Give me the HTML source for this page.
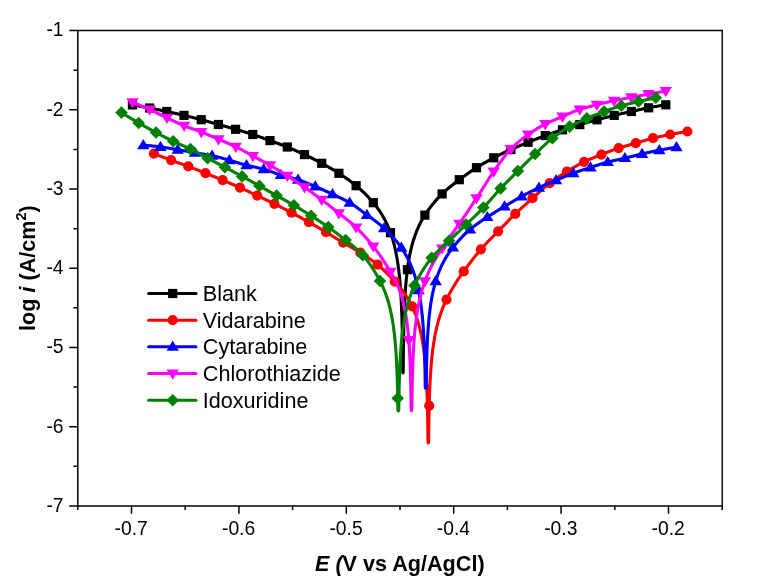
<!DOCTYPE html>
<html lang="en">
<head>
<meta charset="utf-8">
<title>Tafel polarization curves</title>
<style>
html,body{margin:0;padding:0;background:#fff;}
body{width:762px;height:582px;overflow:hidden;}
svg{display:block;}
</style>
</head>
<body>
<svg width="762" height="582" viewBox="0 0 762 582">
<rect width="762" height="582" fill="#fff"/>
<g id="s-black">
<path d="M132.40 104.9L132.90 105.0L133.40 105.1L133.90 105.2L134.40 105.2L134.90 105.3L135.40 105.4L135.90 105.5L136.40 105.6L136.90 105.7L137.40 105.8L137.90 105.8L138.40 105.9L138.90 106.0L139.40 106.1L139.90 106.2L140.40 106.3L140.90 106.4L141.40 106.5L141.90 106.6L142.40 106.7L142.90 106.7L143.40 106.8L143.90 106.9L144.40 107.0L144.90 107.1L145.40 107.2L145.90 107.3L146.40 107.4L146.90 107.5L147.40 107.6L147.90 107.7L148.40 107.8L148.90 107.9L149.40 108.0L149.61 108.0L149.90 108.1L150.40 108.2L150.90 108.2L151.40 108.3L151.90 108.4L152.40 108.5L152.90 108.6L153.40 108.7L153.90 108.8L154.40 108.9L154.90 109.0L155.40 109.1L155.90 109.2L156.40 109.3L156.90 109.4L157.40 109.5L157.90 109.6L158.40 109.7L158.90 109.8L159.40 109.9L159.90 110.0L160.40 110.1L160.90 110.3L161.40 110.4L161.90 110.5L162.40 110.6L162.90 110.7L163.40 110.8L163.90 110.9L164.40 111.0L164.90 111.1L165.40 111.2L165.90 111.3L166.40 111.4L166.81 111.5L166.90 111.5L167.40 111.6L167.90 111.7L168.40 111.8L168.90 112.0L169.40 112.1L169.90 112.2L170.40 112.3L170.90 112.4L171.40 112.5L171.90 112.6L172.40 112.7L172.90 112.8L173.40 112.9L173.90 113.1L174.40 113.2L174.90 113.3L175.40 113.4L175.90 113.5L176.40 113.6L176.90 113.7L177.40 113.9L177.90 114.0L178.40 114.1L178.90 114.2L179.40 114.3L179.90 114.4L180.40 114.5L180.90 114.7L181.40 114.8L181.90 114.9L182.40 115.0L182.90 115.1L183.40 115.3L183.90 115.4L184.02 115.4L184.40 115.5L184.90 115.6L185.40 115.7L185.90 115.8L186.40 116.0L186.90 116.1L187.40 116.2L187.90 116.3L188.40 116.5L188.90 116.6L189.40 116.7L189.90 116.8L190.40 116.9L190.90 117.1L191.40 117.2L191.90 117.3L192.40 117.4L192.90 117.6L193.40 117.7L193.90 117.8L194.40 117.9L194.90 118.1L195.40 118.2L195.90 118.3L196.40 118.4L196.90 118.6L197.40 118.7L197.90 118.8L198.40 119.0L198.90 119.1L199.40 119.2L199.90 119.4L200.40 119.5L200.90 119.6L201.22 119.7L201.40 119.7L201.90 119.9L202.40 120.0L202.90 120.1L203.40 120.3L203.90 120.4L204.40 120.6L204.90 120.7L205.40 120.8L205.90 121.0L206.40 121.1L206.90 121.2L207.40 121.4L207.90 121.5L208.40 121.7L208.90 121.8L209.40 121.9L209.90 122.1L210.40 122.2L210.90 122.4L211.40 122.5L211.90 122.7L212.40 122.8L212.90 122.9L213.40 123.1L213.90 123.2L214.40 123.4L214.90 123.5L215.40 123.7L215.90 123.8L216.40 123.9L216.90 124.1L217.40 124.2L217.90 124.4L218.40 124.5L218.43 124.5L218.90 124.6L219.40 124.8L219.90 124.9L220.40 125.0L220.90 125.2L221.40 125.3L221.90 125.5L222.40 125.6L222.90 125.7L223.40 125.9L223.90 126.0L224.40 126.1L224.90 126.3L225.40 126.4L225.90 126.6L226.40 126.7L226.90 126.8L227.40 127.0L227.90 127.1L228.40 127.3L228.90 127.4L229.40 127.5L229.90 127.7L230.40 127.8L230.90 128.0L231.40 128.1L231.90 128.2L232.40 128.4L232.90 128.5L233.40 128.7L233.90 128.8L234.40 128.9L234.90 129.1L235.40 129.2L235.64 129.3L235.90 129.4L236.40 129.5L236.90 129.7L237.40 129.8L237.90 130.0L238.40 130.1L238.90 130.2L239.40 130.4L239.90 130.5L240.40 130.7L240.90 130.8L241.40 131.0L241.90 131.1L242.40 131.3L242.90 131.4L243.40 131.6L243.90 131.7L244.40 131.9L244.90 132.0L245.40 132.2L245.90 132.3L246.40 132.5L246.90 132.6L247.40 132.8L247.90 132.9L248.40 133.1L248.90 133.2L249.40 133.4L249.90 133.6L250.40 133.7L250.90 133.9L251.40 134.0L251.90 134.2L252.40 134.4L252.84 134.5L252.90 134.5L253.40 134.7L253.90 134.8L254.40 135.0L254.90 135.2L255.40 135.4L255.90 135.5L256.40 135.7L256.90 135.9L257.40 136.0L257.90 136.2L258.40 136.4L258.90 136.6L259.40 136.7L259.90 136.9L260.40 137.1L260.90 137.3L261.40 137.5L261.90 137.6L262.40 137.8L262.90 138.0L263.40 138.2L263.90 138.4L264.40 138.5L264.90 138.7L265.40 138.9L265.90 139.1L266.40 139.3L266.90 139.5L267.40 139.6L267.90 139.8L268.40 140.0L268.90 140.2L269.40 140.4L269.90 140.5L270.05 140.6L270.40 140.7L270.90 140.9L271.40 141.1L271.90 141.3L272.40 141.4L272.90 141.6L273.40 141.8L273.90 142.0L274.40 142.2L274.90 142.3L275.40 142.5L275.90 142.7L276.40 142.9L276.90 143.1L277.40 143.3L277.90 143.4L278.40 143.6L278.90 143.8L279.40 144.0L279.90 144.2L280.40 144.4L280.90 144.5L281.40 144.7L281.90 144.9L282.40 145.1L282.90 145.3L283.40 145.5L283.90 145.7L284.40 145.9L284.90 146.1L285.40 146.3L285.90 146.5L286.40 146.7L286.90 146.9L287.25 147.0L287.40 147.1L287.90 147.3L288.40 147.5L288.90 147.7L289.40 147.9L289.90 148.1L290.40 148.3L290.90 148.5L291.40 148.7L291.90 148.9L292.40 149.1L292.90 149.4L293.40 149.6L293.90 149.8L294.40 150.0L294.90 150.2L295.40 150.5L295.90 150.7L296.40 150.9L296.90 151.1L297.40 151.3L297.90 151.6L298.40 151.8L298.90 152.0L299.40 152.3L299.90 152.5L300.40 152.7L300.90 152.9L301.40 153.2L301.90 153.4L302.40 153.6L302.90 153.9L303.40 154.1L303.90 154.3L304.40 154.6L304.46 154.6L304.90 154.8L305.40 155.0L305.90 155.3L306.40 155.5L306.90 155.8L307.40 156.0L307.90 156.2L308.40 156.5L308.90 156.7L309.40 157.0L309.90 157.2L310.40 157.5L310.90 157.7L311.40 158.0L311.90 158.2L312.40 158.5L312.90 158.7L313.40 159.0L313.90 159.2L314.40 159.5L314.90 159.7L315.40 160.0L315.90 160.3L316.40 160.5L316.90 160.8L317.40 161.0L317.90 161.3L318.40 161.6L318.90 161.8L319.40 162.1L319.90 162.4L320.40 162.6L320.90 162.9L321.40 163.2L321.67 163.3L321.90 163.4L322.40 163.7L322.90 164.0L323.40 164.2L323.90 164.5L324.40 164.8L324.90 165.1L325.40 165.3L325.90 165.6L326.40 165.9L326.90 166.2L327.40 166.4L327.90 166.7L328.40 167.0L328.90 167.3L329.40 167.6L329.90 167.9L330.40 168.2L330.90 168.5L331.40 168.7L331.90 169.0L332.40 169.3L332.90 169.6L333.40 169.9L333.90 170.2L334.40 170.5L334.90 170.8L335.40 171.1L335.90 171.4L336.40 171.7L336.90 172.1L337.40 172.4L337.90 172.7L338.40 173.0L338.87 173.3L338.90 173.3L339.40 173.6L339.90 174.0L340.40 174.3L340.90 174.6L341.40 174.9L341.90 175.3L342.40 175.6L342.90 175.9L343.40 176.3L343.90 176.6L344.40 177.0L344.90 177.3L345.40 177.7L345.90 178.0L346.40 178.4L346.90 178.7L347.40 179.1L347.90 179.4L348.40 179.8L348.90 180.2L349.40 180.5L349.90 180.9L350.40 181.3L350.90 181.6L351.40 182.0L351.90 182.4L352.40 182.8L352.90 183.2L353.40 183.6L353.90 184.0L354.40 184.3L354.90 184.7L355.40 185.1L355.90 185.6L356.08 185.7L356.40 186.0L356.90 186.4L357.40 186.8L357.90 187.2L358.40 187.6L358.90 188.1L359.40 188.5L359.90 189.0L360.40 189.4L360.90 189.9L361.40 190.3L361.90 190.8L362.40 191.3L362.90 191.7L363.40 192.2L363.90 192.7L364.40 193.2L364.90 193.7L365.40 194.2L365.90 194.7L366.40 195.2L366.90 195.7L367.40 196.2L367.90 196.7L368.40 197.2L368.90 197.8L369.40 198.3L369.90 198.9L370.40 199.4L370.90 200.0L371.40 200.5L371.90 201.1L372.40 201.7L372.90 202.2L373.28 202.7L373.40 202.8L373.90 203.4L374.40 204.0L374.90 204.7L375.40 205.3L375.90 205.9L376.40 206.6L376.90 207.2L377.40 207.9L377.90 208.6L378.40 209.3L378.90 210.0L379.40 210.7L379.90 211.5L380.40 212.2L380.90 213.0L381.40 213.8L381.90 214.6L382.40 215.4L382.90 216.3L383.40 217.2L383.90 218.1L384.40 219.0L384.90 219.9L385.40 220.9L385.90 221.9L386.40 222.9L386.90 224.0L387.40 225.1L387.90 226.2L388.00 226.4L388.40 227.3L388.90 228.6L389.16 229.2L389.40 229.8L389.90 231.1L390.24 232.0L390.40 232.5L390.49 232.7L390.90 233.9L391.23 234.8L391.40 235.3L391.90 236.8L392.14 237.6L392.40 238.4L392.90 240.1L392.99 240.4L393.40 241.9L393.76 243.2L393.90 243.8L394.40 245.7L394.48 246.0L394.90 247.8L395.14 248.8L395.40 250.0L395.75 251.7L395.90 252.4L396.31 254.5L396.40 254.9L396.83 257.3L396.90 257.6L397.31 260.1L397.40 260.6L397.75 262.9L397.90 263.9L398.16 265.7L398.40 267.4L398.54 268.5L398.88 271.3L398.90 271.4L399.20 274.1L399.40 275.9L399.50 276.9L399.77 279.7L399.90 281.1L400.02 282.5L400.25 285.3L400.40 287.2L400.46 288.1L400.66 290.8L400.84 293.6L400.90 294.6L401.01 296.4L401.16 299.2L401.31 302.0L401.40 304.0L401.44 304.8L401.56 307.6L401.67 310.4L401.77 313.2L401.87 315.9L401.90 316.9L401.96 318.7L402.04 321.5L402.11 324.3L402.18 327.1L402.25 329.9L402.30 332.7L402.36 335.4L402.40 337.8L402.41 338.2L402.45 341.0L402.50 343.8L402.54 346.6L402.57 349.3L402.60 352.1L402.64 354.9L402.66 357.7L402.69 360.5L402.71 363.3L402.74 366.0L402.76 368.8L402.78 371.6L403.00 372.9L403.22 371.6L403.24 368.9L403.26 366.1L403.29 363.3L403.31 360.5L403.34 357.7L403.36 355.0L403.40 352.2L403.40 351.8L403.43 349.4L403.46 346.6L403.50 343.8L403.55 341.1L403.59 338.3L403.64 335.5L403.70 332.7L403.75 330.0L403.82 327.2L403.89 324.4L403.90 323.9L403.96 321.6L404.04 318.9L404.13 316.1L404.23 313.3L404.33 310.5L404.40 308.7L404.44 307.8L404.56 305.0L404.69 302.2L404.84 299.5L404.90 298.3L404.99 296.7L405.16 293.9L405.34 291.2L405.40 290.3L405.54 288.4L405.75 285.6L405.90 283.8L405.98 282.9L406.23 280.1L406.40 278.4L406.50 277.3L406.80 274.6L406.90 273.7L407.12 271.8L407.38 269.7L407.40 269.5L407.46 269.1L407.84 266.3L407.90 265.9L408.25 263.6L408.40 262.6L408.69 260.8L408.90 259.6L409.17 258.1L409.40 256.8L409.69 255.3L409.90 254.2L410.25 252.6L410.40 251.9L410.86 249.8L410.90 249.6L411.40 247.6L411.52 247.1L411.90 245.6L412.24 244.4L412.40 243.8L412.90 242.0L413.01 241.6L413.40 240.3L413.86 238.9L413.90 238.8L414.40 237.2L414.77 236.2L414.90 235.8L415.40 234.4L415.76 233.4L415.90 233.1L416.40 231.8L416.84 230.7L416.90 230.5L417.40 229.3L417.90 228.2L418.00 228.0L418.40 227.1L418.90 226.0L419.40 225.0L419.90 223.9L420.40 222.9L420.90 222.0L421.40 221.1L421.90 220.1L422.40 219.3L422.90 218.4L423.40 217.5L423.90 216.7L424.40 215.9L424.90 215.1L424.90 215.1L425.40 214.3L425.90 213.6L426.40 212.8L426.90 212.1L427.40 211.3L427.90 210.6L428.40 209.9L428.90 209.2L429.40 208.5L429.90 207.9L430.40 207.2L430.90 206.5L431.40 205.9L431.90 205.2L432.40 204.6L432.90 204.0L433.40 203.4L433.90 202.8L434.40 202.2L434.90 201.6L435.40 201.0L435.90 200.4L436.40 199.9L436.90 199.3L437.40 198.7L437.90 198.2L438.40 197.7L438.90 197.1L439.40 196.6L439.90 196.1L440.40 195.6L440.90 195.1L441.40 194.6L441.90 194.1L442.11 193.9L442.40 193.6L442.90 193.1L443.40 192.7L443.90 192.2L444.40 191.7L444.90 191.3L445.40 190.8L445.90 190.4L446.40 190.0L446.90 189.5L447.40 189.1L447.90 188.7L448.40 188.2L448.90 187.8L449.40 187.4L449.90 187.0L450.40 186.6L450.90 186.2L451.40 185.8L451.90 185.4L452.40 185.0L452.90 184.6L453.40 184.2L453.90 183.8L454.40 183.4L454.90 183.0L455.40 182.6L455.90 182.2L456.40 181.9L456.90 181.5L457.40 181.1L457.90 180.7L458.40 180.4L458.90 180.0L459.31 179.7L459.40 179.6L459.90 179.3L460.40 178.9L460.90 178.5L461.40 178.2L461.90 177.8L462.40 177.4L462.90 177.1L463.40 176.7L463.90 176.4L464.40 176.0L464.90 175.6L465.40 175.3L465.90 174.9L466.40 174.6L466.90 174.2L467.40 173.8L467.90 173.5L468.40 173.1L468.90 172.8L469.40 172.4L469.90 172.1L470.40 171.7L470.90 171.4L471.40 171.1L471.90 170.7L472.40 170.4L472.90 170.0L473.40 169.7L473.90 169.4L474.40 169.1L474.90 168.7L475.40 168.4L475.90 168.1L476.40 167.8L476.52 167.7L476.90 167.5L477.40 167.2L477.90 166.8L478.40 166.5L478.90 166.2L479.40 165.9L479.90 165.6L480.40 165.3L480.90 165.0L481.40 164.7L481.90 164.4L482.40 164.1L482.90 163.8L483.40 163.5L483.90 163.2L484.40 162.9L484.90 162.7L485.40 162.4L485.90 162.1L486.40 161.8L486.90 161.5L487.40 161.2L487.90 161.0L488.40 160.7L488.90 160.4L489.40 160.1L489.90 159.8L490.40 159.6L490.90 159.3L491.40 159.0L491.90 158.8L492.40 158.5L492.90 158.2L493.40 158.0L493.73 157.8L493.90 157.7L494.40 157.4L494.90 157.2L495.40 156.9L495.90 156.7L496.40 156.4L496.90 156.2L497.40 155.9L497.90 155.7L498.40 155.4L498.90 155.2L499.40 154.9L499.90 154.7L500.40 154.4L500.90 154.2L501.40 153.9L501.90 153.7L502.40 153.5L502.90 153.2L503.40 153.0L503.90 152.7L504.40 152.5L504.90 152.3L505.40 152.0L505.90 151.8L506.40 151.6L506.90 151.3L507.40 151.1L507.90 150.9L508.40 150.6L508.90 150.4L509.40 150.2L509.90 150.0L510.40 149.7L510.90 149.5L510.93 149.5L511.40 149.3L511.90 149.1L512.40 148.8L512.90 148.6L513.40 148.4L513.90 148.2L514.40 148.0L514.90 147.8L515.40 147.5L515.90 147.3L516.40 147.1L516.90 146.9L517.40 146.7L517.90 146.5L518.40 146.3L518.90 146.1L519.40 145.9L519.90 145.7L520.40 145.4L520.90 145.2L521.40 145.0L521.90 144.8L522.40 144.6L522.90 144.4L523.40 144.2L523.90 144.0L524.40 143.8L524.90 143.6L525.40 143.4L525.90 143.2L526.40 143.0L526.90 142.8L527.40 142.6L527.90 142.4L528.14 142.3L528.40 142.2L528.90 142.0L529.40 141.8L529.90 141.6L530.40 141.4L530.90 141.2L531.40 141.0L531.90 140.8L532.40 140.6L532.90 140.4L533.40 140.2L533.90 140.0L534.40 139.8L534.90 139.6L535.40 139.4L535.90 139.2L536.40 139.0L536.90 138.8L537.40 138.6L537.90 138.4L538.40 138.2L538.90 138.0L539.40 137.8L539.90 137.6L540.40 137.4L540.90 137.3L541.40 137.1L541.90 136.9L542.40 136.7L542.90 136.5L543.40 136.3L543.90 136.1L544.40 135.9L544.90 135.8L545.34 135.6L545.40 135.6L545.90 135.4L546.40 135.2L546.90 135.0L547.40 134.9L547.90 134.7L548.40 134.5L548.90 134.3L549.40 134.2L549.90 134.0L550.40 133.8L550.90 133.6L551.40 133.5L551.90 133.3L552.40 133.1L552.90 133.0L553.40 132.8L553.90 132.6L554.40 132.5L554.90 132.3L555.40 132.1L555.90 132.0L556.40 131.8L556.90 131.6L557.40 131.5L557.90 131.3L558.40 131.1L558.90 131.0L559.40 130.8L559.90 130.6L560.40 130.5L560.90 130.3L561.40 130.2L561.90 130.0L562.40 129.8L562.55 129.8L562.90 129.7L563.40 129.5L563.90 129.4L564.40 129.2L564.90 129.1L565.40 128.9L565.90 128.7L566.40 128.6L566.90 128.4L567.40 128.3L567.90 128.1L568.40 128.0L568.90 127.8L569.40 127.7L569.90 127.5L570.40 127.4L570.90 127.2L571.40 127.1L571.90 126.9L572.40 126.8L572.90 126.6L573.40 126.5L573.90 126.3L574.40 126.2L574.90 126.0L575.40 125.9L575.90 125.7L576.40 125.6L576.90 125.4L577.40 125.3L577.90 125.1L578.40 125.0L578.90 124.8L579.40 124.7L579.76 124.6L579.90 124.6L580.40 124.4L580.90 124.3L581.40 124.1L581.90 124.0L582.40 123.8L582.90 123.7L583.40 123.6L583.90 123.4L584.40 123.3L584.90 123.1L585.40 123.0L585.90 122.8L586.40 122.7L586.90 122.6L587.40 122.4L587.90 122.3L588.40 122.1L588.90 122.0L589.40 121.9L589.90 121.7L590.40 121.6L590.90 121.4L591.40 121.3L591.90 121.2L592.40 121.0L592.90 120.9L593.40 120.8L593.90 120.6L594.40 120.5L594.90 120.4L595.40 120.2L595.90 120.1L596.40 120.0L596.90 119.8L596.96 119.8L597.40 119.7L597.90 119.6L598.40 119.4L598.90 119.3L599.40 119.2L599.90 119.0L600.40 118.9L600.90 118.8L601.40 118.6L601.90 118.5L602.40 118.4L602.90 118.2L603.40 118.1L603.90 118.0L604.40 117.8L604.90 117.7L605.40 117.6L605.90 117.5L606.40 117.3L606.90 117.2L607.40 117.1L607.90 116.9L608.40 116.8L608.90 116.7L609.40 116.6L609.90 116.4L610.40 116.3L610.90 116.2L611.40 116.1L611.90 116.0L612.40 115.8L612.90 115.7L613.40 115.6L613.90 115.5L614.17 115.4L614.40 115.3L614.90 115.2L615.40 115.1L615.90 115.0L616.40 114.9L616.90 114.8L617.40 114.6L617.90 114.5L618.40 114.4L618.90 114.3L619.40 114.2L619.90 114.1L620.40 113.9L620.90 113.8L621.40 113.7L621.90 113.6L622.40 113.5L622.90 113.4L623.40 113.3L623.90 113.2L624.40 113.0L624.90 112.9L625.40 112.8L625.90 112.7L626.40 112.6L626.90 112.5L627.40 112.4L627.90 112.3L628.40 112.2L628.90 112.0L629.40 111.9L629.90 111.8L630.40 111.7L630.90 111.6L631.37 111.5L631.40 111.5L631.90 111.4L632.40 111.3L632.90 111.2L633.40 111.1L633.90 110.9L634.40 110.8L634.90 110.7L635.40 110.6L635.90 110.5L636.40 110.4L636.90 110.3L637.40 110.2L637.90 110.0L638.40 109.9L638.90 109.8L639.40 109.7L639.90 109.6L640.40 109.5L640.90 109.4L641.40 109.3L641.90 109.2L642.40 109.1L642.90 109.0L643.40 108.8L643.90 108.7L644.40 108.6L644.90 108.5L645.40 108.4L645.90 108.3L646.40 108.2L646.90 108.1L647.40 108.0L647.90 107.9L648.40 107.8L648.58 107.8L648.90 107.7L649.40 107.6L649.90 107.6L650.40 107.5L650.90 107.4L651.40 107.3L651.90 107.2L652.40 107.1L652.90 107.0L653.40 106.9L653.90 106.8L654.40 106.7L654.90 106.6L655.40 106.5L655.90 106.5L656.40 106.4L656.90 106.3L657.40 106.2L657.90 106.1L658.40 106.0L658.90 105.9L659.40 105.8L659.90 105.8L660.40 105.7L660.90 105.6L661.40 105.5L661.90 105.4L662.40 105.3L662.90 105.3L663.40 105.2L663.90 105.1L664.40 105.0L664.90 104.9L665.40 104.9L665.79 104.8" fill="none" stroke="#000000" stroke-width="3.1" stroke-linejoin="round" stroke-linecap="round"/>
<rect x="127.8" y="100.3" width="9.2" height="9.2" fill="#000000"/>
<rect x="145.0" y="103.4" width="9.2" height="9.2" fill="#000000"/>
<rect x="162.2" y="106.9" width="9.2" height="9.2" fill="#000000"/>
<rect x="179.4" y="110.8" width="9.2" height="9.2" fill="#000000"/>
<rect x="196.6" y="115.1" width="9.2" height="9.2" fill="#000000"/>
<rect x="213.8" y="119.9" width="9.2" height="9.2" fill="#000000"/>
<rect x="231.0" y="124.7" width="9.2" height="9.2" fill="#000000"/>
<rect x="248.2" y="129.9" width="9.2" height="9.2" fill="#000000"/>
<rect x="265.4" y="136.0" width="9.2" height="9.2" fill="#000000"/>
<rect x="282.7" y="142.4" width="9.2" height="9.2" fill="#000000"/>
<rect x="299.9" y="150.0" width="9.2" height="9.2" fill="#000000"/>
<rect x="317.1" y="158.7" width="9.2" height="9.2" fill="#000000"/>
<rect x="334.3" y="168.7" width="9.2" height="9.2" fill="#000000"/>
<rect x="351.5" y="181.1" width="9.2" height="9.2" fill="#000000"/>
<rect x="368.7" y="198.1" width="9.2" height="9.2" fill="#000000"/>
<rect x="385.9" y="228.1" width="9.2" height="9.2" fill="#000000"/>
<rect x="402.8" y="265.1" width="9.2" height="9.2" fill="#000000"/>
<rect x="420.3" y="210.5" width="9.2" height="9.2" fill="#000000"/>
<rect x="437.5" y="189.3" width="9.2" height="9.2" fill="#000000"/>
<rect x="454.7" y="175.1" width="9.2" height="9.2" fill="#000000"/>
<rect x="471.9" y="163.1" width="9.2" height="9.2" fill="#000000"/>
<rect x="489.1" y="153.2" width="9.2" height="9.2" fill="#000000"/>
<rect x="506.3" y="144.9" width="9.2" height="9.2" fill="#000000"/>
<rect x="523.5" y="137.7" width="9.2" height="9.2" fill="#000000"/>
<rect x="540.7" y="131.0" width="9.2" height="9.2" fill="#000000"/>
<rect x="557.9" y="125.2" width="9.2" height="9.2" fill="#000000"/>
<rect x="575.2" y="120.0" width="9.2" height="9.2" fill="#000000"/>
<rect x="592.4" y="115.2" width="9.2" height="9.2" fill="#000000"/>
<rect x="609.6" y="110.8" width="9.2" height="9.2" fill="#000000"/>
<rect x="626.8" y="106.9" width="9.2" height="9.2" fill="#000000"/>
<rect x="644.0" y="103.2" width="9.2" height="9.2" fill="#000000"/>
<rect x="661.2" y="100.2" width="9.2" height="9.2" fill="#000000"/>
</g>
<g id="s-red">
<path d="M153.90 153.6L154.40 153.8L154.90 154.0L155.40 154.2L155.90 154.4L156.40 154.6L156.90 154.8L157.40 155.0L157.90 155.2L158.40 155.4L158.90 155.6L159.40 155.8L159.90 155.9L160.40 156.1L160.90 156.3L161.40 156.5L161.90 156.7L162.40 156.9L162.90 157.1L163.40 157.3L163.90 157.5L164.40 157.7L164.90 157.9L165.40 158.1L165.90 158.2L166.40 158.4L166.90 158.6L167.40 158.8L167.90 159.0L168.40 159.2L168.90 159.4L169.40 159.6L169.90 159.8L170.40 159.9L170.90 160.1L171.11 160.2L171.40 160.3L171.90 160.5L172.40 160.7L172.90 160.9L173.40 161.0L173.90 161.2L174.40 161.4L174.90 161.6L175.40 161.8L175.90 161.9L176.40 162.1L176.90 162.3L177.40 162.5L177.90 162.6L178.40 162.8L178.90 163.0L179.40 163.2L179.90 163.4L180.40 163.5L180.90 163.7L181.40 163.9L181.90 164.1L182.40 164.2L182.90 164.4L183.40 164.6L183.90 164.8L184.40 165.0L184.90 165.1L185.40 165.3L185.90 165.5L186.40 165.7L186.90 165.9L187.40 166.1L187.90 166.2L188.32 166.4L188.40 166.4L188.90 166.6L189.40 166.8L189.90 167.0L190.40 167.2L190.90 167.4L191.40 167.6L191.90 167.8L192.40 168.0L192.90 168.2L193.40 168.4L193.90 168.6L194.40 168.7L194.90 168.9L195.40 169.1L195.90 169.3L196.40 169.5L196.90 169.7L197.40 169.9L197.90 170.1L198.40 170.3L198.90 170.5L199.40 170.7L199.90 170.9L200.40 171.1L200.90 171.3L201.40 171.5L201.90 171.7L202.40 171.9L202.90 172.1L203.40 172.3L203.90 172.5L204.40 172.7L204.90 172.9L205.40 173.1L205.53 173.2L205.90 173.3L206.40 173.5L206.90 173.7L207.40 173.9L207.90 174.2L208.40 174.4L208.90 174.6L209.40 174.8L209.90 175.0L210.40 175.2L210.90 175.4L211.40 175.6L211.90 175.8L212.40 176.0L212.90 176.2L213.40 176.4L213.90 176.6L214.40 176.8L214.90 177.0L215.40 177.2L215.90 177.4L216.40 177.6L216.90 177.8L217.40 178.0L217.90 178.2L218.40 178.4L218.90 178.6L219.40 178.8L219.90 179.0L220.40 179.2L220.90 179.4L221.40 179.6L221.90 179.8L222.40 180.1L222.74 180.2L222.90 180.3L223.40 180.5L223.90 180.7L224.40 180.9L224.90 181.1L225.40 181.3L225.90 181.5L226.40 181.7L226.90 181.9L227.40 182.2L227.90 182.4L228.40 182.6L228.90 182.8L229.40 183.0L229.90 183.2L230.40 183.4L230.90 183.6L231.40 183.9L231.90 184.1L232.40 184.3L232.90 184.5L233.40 184.7L233.90 184.9L234.40 185.2L234.90 185.4L235.40 185.6L235.90 185.8L236.40 186.0L236.90 186.2L237.40 186.5L237.90 186.7L238.40 186.9L238.90 187.1L239.40 187.4L239.90 187.6L239.95 187.6L240.40 187.8L240.90 188.0L241.40 188.3L241.90 188.5L242.40 188.7L242.90 188.9L243.40 189.2L243.90 189.4L244.40 189.6L244.90 189.9L245.40 190.1L245.90 190.3L246.40 190.5L246.90 190.8L247.40 191.0L247.90 191.2L248.40 191.5L248.90 191.7L249.40 191.9L249.90 192.2L250.40 192.4L250.90 192.7L251.40 192.9L251.90 193.1L252.40 193.4L252.90 193.6L253.40 193.8L253.90 194.1L254.40 194.3L254.90 194.5L255.40 194.8L255.90 195.0L256.40 195.2L256.90 195.5L257.16 195.6L257.40 195.7L257.90 195.9L258.40 196.2L258.90 196.4L259.40 196.7L259.90 196.9L260.40 197.1L260.90 197.4L261.40 197.6L261.90 197.8L262.40 198.1L262.90 198.3L263.40 198.5L263.90 198.8L264.40 199.0L264.90 199.2L265.40 199.5L265.90 199.7L266.40 199.9L266.90 200.2L267.40 200.4L267.90 200.7L268.40 200.9L268.90 201.1L269.40 201.4L269.90 201.6L270.40 201.9L270.90 202.1L271.40 202.3L271.90 202.6L272.40 202.8L272.90 203.1L273.40 203.3L273.90 203.6L274.37 203.8L274.40 203.8L274.90 204.1L275.40 204.3L275.90 204.6L276.40 204.8L276.90 205.1L277.40 205.3L277.90 205.6L278.40 205.8L278.90 206.1L279.40 206.3L279.90 206.6L280.40 206.8L280.90 207.1L281.40 207.4L281.90 207.6L282.40 207.9L282.90 208.1L283.40 208.4L283.90 208.7L284.40 208.9L284.90 209.2L285.40 209.4L285.90 209.7L286.40 210.0L286.90 210.2L287.40 210.5L287.90 210.8L288.40 211.0L288.90 211.3L289.40 211.5L289.90 211.8L290.40 212.1L290.90 212.3L291.40 212.6L291.58 212.7L291.90 212.9L292.40 213.1L292.90 213.4L293.40 213.7L293.90 213.9L294.40 214.2L294.90 214.5L295.40 214.7L295.90 215.0L296.40 215.3L296.90 215.5L297.40 215.8L297.90 216.1L298.40 216.4L298.90 216.6L299.40 216.9L299.90 217.2L300.40 217.5L300.90 217.7L301.40 218.0L301.90 218.3L302.40 218.5L302.90 218.8L303.40 219.1L303.90 219.4L304.40 219.7L304.90 219.9L305.40 220.2L305.90 220.5L306.40 220.8L306.90 221.0L307.40 221.3L307.90 221.6L308.40 221.9L308.79 222.1L308.90 222.2L309.40 222.4L309.90 222.7L310.40 223.0L310.90 223.3L311.40 223.6L311.90 223.9L312.40 224.1L312.90 224.4L313.40 224.7L313.90 225.0L314.40 225.3L314.90 225.6L315.40 225.9L315.90 226.2L316.40 226.5L316.90 226.7L317.40 227.0L317.90 227.3L318.40 227.6L318.90 227.9L319.40 228.2L319.90 228.5L320.40 228.8L320.90 229.1L321.40 229.4L321.90 229.7L322.40 230.0L322.90 230.3L323.40 230.6L323.90 230.9L324.40 231.2L324.90 231.4L325.40 231.7L325.90 232.0L326.00 232.1L326.40 232.3L326.90 232.6L327.40 232.9L327.90 233.2L328.40 233.5L328.90 233.8L329.40 234.2L329.90 234.5L330.40 234.8L330.90 235.1L331.40 235.4L331.90 235.7L332.40 236.0L332.90 236.3L333.40 236.6L333.90 236.9L334.40 237.3L334.90 237.6L335.40 237.9L335.90 238.2L336.40 238.5L336.90 238.8L337.40 239.1L337.90 239.4L338.40 239.7L338.90 240.0L339.40 240.3L339.90 240.6L340.40 240.9L340.90 241.2L341.40 241.5L341.90 241.8L342.40 242.1L342.90 242.4L343.21 242.6L343.40 242.7L343.90 243.0L344.40 243.3L344.90 243.6L345.40 243.9L345.90 244.1L346.40 244.4L346.90 244.7L347.40 245.0L347.90 245.3L348.40 245.6L348.90 245.9L349.40 246.1L349.90 246.4L350.40 246.7L350.90 247.0L351.40 247.3L351.90 247.6L352.40 247.9L352.90 248.2L353.40 248.5L353.90 248.8L354.40 249.0L354.90 249.3L355.40 249.6L355.90 249.9L356.40 250.2L356.90 250.5L357.40 250.8L357.90 251.1L358.40 251.4L358.90 251.8L359.40 252.1L359.90 252.4L360.40 252.7L360.42 252.7L360.90 253.0L361.40 253.3L361.90 253.6L362.40 254.0L362.90 254.3L363.40 254.6L363.90 254.9L364.40 255.2L364.90 255.6L365.40 255.9L365.90 256.2L366.40 256.5L366.90 256.9L367.40 257.2L367.90 257.6L368.40 257.9L368.90 258.2L369.40 258.6L369.90 258.9L370.40 259.3L370.90 259.6L371.40 260.0L371.90 260.3L372.40 260.7L372.90 261.1L373.40 261.4L373.90 261.8L374.40 262.2L374.90 262.6L375.40 262.9L375.90 263.3L376.40 263.7L376.90 264.1L377.40 264.5L377.63 264.7L377.90 264.9L378.40 265.3L378.90 265.8L379.40 266.2L379.90 266.6L380.40 267.1L380.90 267.5L381.40 268.0L381.90 268.4L382.40 268.9L382.90 269.4L383.40 269.9L383.90 270.4L384.40 270.9L384.90 271.4L385.40 271.9L385.90 272.4L386.40 272.9L386.90 273.4L387.40 273.9L387.90 274.4L388.40 274.9L388.90 275.4L389.40 275.9L389.90 276.5L390.40 277.0L390.90 277.5L391.40 278.0L391.90 278.6L392.40 279.1L392.90 279.6L393.40 280.1L393.90 280.6L394.40 281.1L394.84 281.6L394.90 281.7L395.40 282.2L395.90 282.7L396.40 283.2L396.90 283.8L397.40 284.3L397.90 284.9L398.40 285.5L398.90 286.0L399.40 286.6L399.90 287.2L400.40 287.8L400.90 288.5L401.40 289.1L401.90 289.7L402.40 290.4L402.90 291.1L403.40 291.8L403.90 292.4L404.40 293.2L404.90 293.9L405.40 294.6L405.90 295.4L406.40 296.2L406.90 297.0L407.40 297.8L407.90 298.6L408.40 299.4L408.90 300.3L409.40 301.2L409.90 302.1L410.40 303.1L410.90 304.1L411.40 305.1L411.90 306.1L412.05 306.4L412.40 307.1L412.90 308.2L413.30 309.1L413.40 309.4L413.90 310.5L414.40 311.7L414.46 311.9L414.90 313.0L415.40 314.3L415.54 314.7L415.90 315.6L416.40 317.0L416.53 317.4L416.90 318.5L417.40 320.0L417.44 320.2L417.90 321.6L418.29 322.9L418.40 323.3L418.90 325.1L419.06 325.7L419.40 326.9L419.78 328.4L419.90 328.9L420.40 331.0L420.44 331.1L420.90 333.2L421.05 333.9L421.40 335.6L421.61 336.6L421.90 338.1L422.13 339.4L422.40 340.9L422.61 342.1L422.90 343.9L423.05 344.9L423.40 347.2L423.46 347.7L423.84 350.4L423.90 350.9L424.18 353.2L424.40 355.0L424.50 355.9L424.80 358.7L424.90 359.7L425.07 361.4L425.32 364.2L425.40 365.1L425.55 367.0L425.76 369.7L425.90 371.6L425.96 372.5L426.14 375.3L426.31 378.0L426.40 379.6L426.46 380.8L426.61 383.6L426.74 386.3L426.86 389.1L426.90 390.1L426.97 391.9L427.07 394.6L427.17 397.4L427.26 400.2L427.34 403.0L427.40 405.2L427.41 405.7L427.48 408.5L427.55 411.3L427.60 414.1L427.66 416.8L427.71 419.6L427.75 422.4L427.80 425.2L427.84 427.9L427.87 430.7L427.90 433.1L427.90 433.5L427.94 436.3L427.96 439.0L427.99 441.8L428.30 443.0L428.61 441.8L428.64 439.0L428.66 436.2L428.70 433.4L428.73 430.6L428.76 427.9L428.80 425.1L428.85 422.3L428.89 419.5L428.90 419.0L428.94 416.7L429.00 413.9L429.05 411.1L429.12 408.4L429.18 405.7L429.19 405.6L429.26 402.8L429.34 400.0L429.40 398.1L429.43 397.2L429.53 394.4L429.63 391.6L429.74 388.8L429.86 386.1L429.90 385.2L429.99 383.3L430.14 380.5L430.29 377.7L430.40 375.8L430.46 374.9L430.64 372.1L430.84 369.3L430.90 368.4L431.05 366.5L431.28 363.7L431.40 362.3L431.53 360.9L431.80 358.1L431.90 357.1L432.10 355.3L432.40 352.6L432.42 352.4L432.76 349.6L432.90 348.6L433.14 346.8L433.40 345.0L433.55 344.0L433.90 341.7L433.99 341.2L434.40 338.7L434.47 338.3L434.90 335.9L434.99 335.5L435.40 333.4L435.55 332.6L435.90 331.0L436.16 329.8L436.40 328.7L436.82 326.9L436.90 326.6L437.40 324.6L437.54 324.1L437.90 322.7L438.31 321.2L438.40 320.9L438.90 319.2L439.16 318.3L439.40 317.5L439.90 315.9L440.07 315.4L440.40 314.4L440.90 313.0L441.06 312.5L441.40 311.6L441.90 310.2L442.14 309.6L442.40 308.9L442.90 307.6L443.30 306.6L443.40 306.4L443.90 305.2L444.40 304.1L444.90 302.9L445.40 301.8L445.90 300.8L446.40 299.7L446.47 299.6L446.90 298.7L447.40 297.7L447.90 296.8L448.40 295.8L448.90 294.9L449.40 293.9L449.90 293.0L450.40 292.1L450.90 291.2L451.40 290.3L451.90 289.4L452.40 288.6L452.90 287.7L453.40 286.9L453.90 286.1L454.40 285.2L454.90 284.4L455.40 283.6L455.90 282.8L456.40 282.0L456.90 281.2L457.40 280.5L457.90 279.7L458.40 278.9L458.90 278.2L459.40 277.5L459.90 276.7L460.40 276.0L460.90 275.3L461.40 274.6L461.90 273.9L462.40 273.2L462.90 272.5L463.40 271.8L463.68 271.4L463.90 271.1L464.40 270.4L464.90 269.8L465.40 269.1L465.90 268.4L466.40 267.7L466.90 267.1L467.40 266.4L467.90 265.7L468.40 265.0L468.90 264.4L469.40 263.7L469.90 263.1L470.40 262.4L470.90 261.7L471.40 261.1L471.90 260.4L472.40 259.8L472.90 259.1L473.40 258.5L473.90 257.8L474.40 257.2L474.90 256.5L475.40 255.9L475.90 255.3L476.40 254.7L476.90 254.0L477.40 253.4L477.90 252.8L478.40 252.2L478.90 251.6L479.40 251.0L479.90 250.4L480.40 249.9L480.89 249.3L480.90 249.3L481.40 248.7L481.90 248.2L482.40 247.6L482.90 247.0L483.40 246.5L483.90 245.9L484.40 245.4L484.90 244.9L485.40 244.3L485.90 243.8L486.40 243.3L486.90 242.7L487.40 242.2L487.90 241.7L488.40 241.2L488.90 240.6L489.40 240.1L489.90 239.6L490.40 239.1L490.90 238.6L491.40 238.1L491.90 237.6L492.40 237.1L492.90 236.6L493.40 236.1L493.90 235.5L494.40 235.0L494.90 234.5L495.40 234.0L495.90 233.5L496.40 233.0L496.90 232.5L497.40 232.0L497.90 231.5L498.10 231.3L498.40 231.0L498.90 230.5L499.40 230.0L499.90 229.5L500.40 229.0L500.90 228.4L501.40 227.9L501.90 227.4L502.40 226.9L502.90 226.4L503.40 225.9L503.90 225.4L504.40 224.8L504.90 224.3L505.40 223.8L505.90 223.3L506.40 222.8L506.90 222.3L507.40 221.8L507.90 221.3L508.40 220.7L508.90 220.2L509.40 219.7L509.90 219.2L510.40 218.7L510.90 218.2L511.40 217.7L511.90 217.2L512.40 216.7L512.90 216.2L513.40 215.7L513.90 215.3L514.40 214.8L514.90 214.3L515.31 213.9L515.40 213.8L515.90 213.3L516.40 212.9L516.90 212.4L517.40 211.9L517.90 211.4L518.40 211.0L518.90 210.5L519.40 210.0L519.90 209.6L520.40 209.1L520.90 208.7L521.40 208.2L521.90 207.7L522.40 207.3L522.90 206.8L523.40 206.4L523.90 205.9L524.40 205.5L524.90 205.0L525.40 204.6L525.90 204.1L526.40 203.7L526.90 203.2L527.40 202.8L527.90 202.3L528.40 201.9L528.90 201.4L529.40 201.0L529.90 200.5L530.40 200.1L530.90 199.6L531.40 199.2L531.90 198.8L532.40 198.3L532.52 198.2L532.90 197.9L533.40 197.4L533.90 197.0L534.40 196.5L534.90 196.1L535.40 195.6L535.90 195.2L536.40 194.7L536.90 194.2L537.40 193.8L537.90 193.3L538.40 192.9L538.90 192.4L539.40 192.0L539.90 191.5L540.40 191.1L540.90 190.6L541.40 190.2L541.90 189.7L542.40 189.3L542.90 188.9L543.40 188.4L543.90 188.0L544.40 187.5L544.90 187.1L545.40 186.7L545.90 186.3L546.40 185.9L546.90 185.4L547.40 185.0L547.90 184.6L548.40 184.2L548.90 183.8L549.40 183.5L549.73 183.2L549.90 183.1L550.40 182.7L550.90 182.3L551.40 181.9L551.90 181.6L552.40 181.2L552.90 180.8L553.40 180.5L553.90 180.1L554.40 179.8L554.90 179.4L555.40 179.1L555.90 178.7L556.40 178.4L556.90 178.0L557.40 177.7L557.90 177.3L558.40 177.0L558.90 176.7L559.40 176.3L559.90 176.0L560.40 175.7L560.90 175.3L561.40 175.0L561.90 174.7L562.40 174.4L562.90 174.0L563.40 173.7L563.90 173.4L564.40 173.1L564.90 172.8L565.40 172.5L565.90 172.1L566.40 171.8L566.90 171.5L566.94 171.5L567.40 171.2L567.90 170.9L568.40 170.6L568.90 170.3L569.40 170.0L569.90 169.7L570.40 169.4L570.90 169.1L571.40 168.8L571.90 168.5L572.40 168.2L572.90 167.9L573.40 167.6L573.90 167.3L574.40 167.0L574.90 166.7L575.40 166.4L575.90 166.1L576.40 165.9L576.90 165.6L577.40 165.3L577.90 165.0L578.40 164.8L578.90 164.5L579.40 164.2L579.90 163.9L580.40 163.7L580.90 163.4L581.40 163.2L581.90 162.9L582.40 162.7L582.90 162.4L583.40 162.2L583.90 161.9L584.15 161.8L584.40 161.7L584.90 161.4L585.40 161.2L585.90 161.0L586.40 160.8L586.90 160.5L587.40 160.3L587.90 160.1L588.40 159.9L588.90 159.6L589.40 159.4L589.90 159.2L590.40 159.0L590.90 158.8L591.40 158.6L591.90 158.4L592.40 158.2L592.90 158.0L593.40 157.8L593.90 157.6L594.40 157.4L594.90 157.2L595.40 157.0L595.90 156.8L596.40 156.6L596.90 156.4L597.40 156.2L597.90 156.0L598.40 155.8L598.90 155.6L599.40 155.4L599.90 155.2L600.40 155.0L600.90 154.8L601.36 154.6L601.40 154.6L601.90 154.4L602.40 154.2L602.90 154.0L603.40 153.8L603.90 153.6L604.40 153.4L604.90 153.2L605.40 153.0L605.90 152.8L606.40 152.6L606.90 152.4L607.40 152.2L607.90 152.0L608.40 151.8L608.90 151.6L609.40 151.4L609.90 151.2L610.40 151.0L610.90 150.8L611.40 150.6L611.90 150.4L612.40 150.3L612.90 150.1L613.40 149.9L613.90 149.7L614.40 149.5L614.90 149.3L615.40 149.2L615.90 149.0L616.40 148.8L616.90 148.7L617.40 148.5L617.90 148.3L618.40 148.2L618.57 148.1L618.90 148.0L619.40 147.8L619.90 147.7L620.40 147.5L620.90 147.4L621.40 147.2L621.90 147.1L622.40 146.9L622.90 146.8L623.40 146.6L623.90 146.5L624.40 146.4L624.90 146.2L625.40 146.1L625.90 145.9L626.40 145.8L626.90 145.7L627.40 145.5L627.90 145.4L628.40 145.2L628.90 145.1L629.40 145.0L629.90 144.8L630.40 144.7L630.90 144.6L631.40 144.4L631.90 144.3L632.40 144.1L632.90 144.0L633.40 143.9L633.90 143.7L634.40 143.6L634.90 143.5L635.40 143.3L635.78 143.2L635.90 143.2L636.40 143.0L636.90 142.9L637.40 142.7L637.90 142.6L638.40 142.4L638.90 142.3L639.40 142.1L639.90 142.0L640.40 141.8L640.90 141.7L641.40 141.5L641.90 141.4L642.40 141.2L642.90 141.1L643.40 140.9L643.90 140.8L644.40 140.6L644.90 140.4L645.40 140.3L645.90 140.1L646.40 140.0L646.90 139.9L647.40 139.7L647.90 139.6L648.40 139.4L648.90 139.3L649.40 139.1L649.90 139.0L650.40 138.9L650.90 138.7L651.40 138.6L651.90 138.5L652.40 138.3L652.90 138.2L652.99 138.2L653.40 138.1L653.90 138.0L654.40 137.9L654.90 137.7L655.40 137.6L655.90 137.5L656.40 137.4L656.90 137.3L657.40 137.2L657.90 137.1L658.40 136.9L658.90 136.8L659.40 136.7L659.90 136.6L660.40 136.5L660.90 136.4L661.40 136.3L661.90 136.2L662.40 136.1L662.90 136.0L663.40 135.9L663.90 135.8L664.40 135.6L664.90 135.5L665.40 135.4L665.90 135.3L666.40 135.2L666.90 135.1L667.40 135.0L667.90 134.9L668.40 134.8L668.90 134.7L669.40 134.7L669.90 134.6L670.20 134.5L670.40 134.5L670.90 134.4L671.40 134.3L671.90 134.2L672.40 134.1L672.90 134.0L673.40 133.9L673.90 133.8L674.40 133.7L674.90 133.6L675.40 133.5L675.90 133.4L676.40 133.4L676.90 133.3L677.40 133.2L677.90 133.1L678.40 133.0L678.90 132.9L679.40 132.8L679.90 132.7L680.40 132.6L680.90 132.6L681.40 132.5L681.90 132.4L682.40 132.3L682.90 132.2L683.40 132.1L683.90 132.1L684.40 132.0L684.90 131.9L685.40 131.8L685.90 131.7L686.40 131.7L686.90 131.6L687.40 131.5L687.41 131.5" fill="none" stroke="#ff0000" stroke-width="3.1" stroke-linejoin="round" stroke-linecap="round"/>
<circle cx="153.9" cy="153.6" r="5.1" fill="#ff0000"/>
<circle cx="171.1" cy="160.2" r="5.1" fill="#ff0000"/>
<circle cx="188.3" cy="166.4" r="5.1" fill="#ff0000"/>
<circle cx="205.5" cy="173.2" r="5.1" fill="#ff0000"/>
<circle cx="222.7" cy="180.2" r="5.1" fill="#ff0000"/>
<circle cx="240.0" cy="187.6" r="5.1" fill="#ff0000"/>
<circle cx="257.2" cy="195.6" r="5.1" fill="#ff0000"/>
<circle cx="274.4" cy="203.8" r="5.1" fill="#ff0000"/>
<circle cx="291.6" cy="212.7" r="5.1" fill="#ff0000"/>
<circle cx="308.8" cy="222.1" r="5.1" fill="#ff0000"/>
<circle cx="326.0" cy="232.1" r="5.1" fill="#ff0000"/>
<circle cx="343.2" cy="242.6" r="5.1" fill="#ff0000"/>
<circle cx="360.4" cy="252.7" r="5.1" fill="#ff0000"/>
<circle cx="377.6" cy="264.7" r="5.1" fill="#ff0000"/>
<circle cx="394.8" cy="281.6" r="5.1" fill="#ff0000"/>
<circle cx="412.1" cy="306.4" r="5.1" fill="#ff0000"/>
<circle cx="429.2" cy="405.7" r="5.1" fill="#ff0000"/>
<circle cx="446.5" cy="299.6" r="5.1" fill="#ff0000"/>
<circle cx="463.7" cy="271.4" r="5.1" fill="#ff0000"/>
<circle cx="480.9" cy="249.3" r="5.1" fill="#ff0000"/>
<circle cx="498.1" cy="231.3" r="5.1" fill="#ff0000"/>
<circle cx="515.3" cy="213.9" r="5.1" fill="#ff0000"/>
<circle cx="532.5" cy="198.2" r="5.1" fill="#ff0000"/>
<circle cx="549.7" cy="183.2" r="5.1" fill="#ff0000"/>
<circle cx="566.9" cy="171.5" r="5.1" fill="#ff0000"/>
<circle cx="584.1" cy="161.8" r="5.1" fill="#ff0000"/>
<circle cx="601.4" cy="154.6" r="5.1" fill="#ff0000"/>
<circle cx="618.6" cy="148.1" r="5.1" fill="#ff0000"/>
<circle cx="635.8" cy="143.2" r="5.1" fill="#ff0000"/>
<circle cx="653.0" cy="138.2" r="5.1" fill="#ff0000"/>
<circle cx="670.2" cy="134.5" r="5.1" fill="#ff0000"/>
<circle cx="687.4" cy="131.5" r="5.1" fill="#ff0000"/>
</g>
<g id="s-blue">
<path d="M143.30 145.2L143.80 145.2L144.30 145.3L144.80 145.3L145.30 145.3L145.80 145.4L146.30 145.4L146.80 145.5L147.30 145.5L147.80 145.5L148.30 145.6L148.80 145.6L149.30 145.7L149.80 145.7L150.30 145.8L150.80 145.8L151.30 145.9L151.80 145.9L152.30 146.0L152.80 146.0L153.30 146.1L153.80 146.1L154.30 146.2L154.80 146.2L155.30 146.3L155.80 146.3L156.30 146.4L156.80 146.4L157.30 146.5L157.80 146.6L158.30 146.6L158.80 146.7L159.30 146.7L159.80 146.8L160.30 146.9L160.50 146.9L160.80 146.9L161.30 147.0L161.80 147.1L162.30 147.1L162.80 147.2L163.30 147.3L163.80 147.4L164.30 147.4L164.80 147.5L165.30 147.6L165.80 147.7L166.30 147.8L166.80 147.8L167.30 147.9L167.80 148.0L168.30 148.1L168.80 148.2L169.30 148.3L169.80 148.3L170.30 148.4L170.80 148.5L171.30 148.6L171.80 148.7L172.30 148.8L172.80 148.9L173.30 148.9L173.80 149.0L174.30 149.1L174.80 149.2L175.30 149.3L175.80 149.4L176.30 149.5L176.80 149.5L177.30 149.6L177.70 149.7L177.80 149.7L178.30 149.8L178.80 149.9L179.30 150.0L179.80 150.1L180.30 150.1L180.80 150.2L181.30 150.3L181.80 150.4L182.30 150.5L182.80 150.6L183.30 150.7L183.80 150.8L184.30 150.8L184.80 150.9L185.30 151.0L185.80 151.1L186.30 151.2L186.80 151.3L187.30 151.4L187.80 151.5L188.30 151.5L188.80 151.6L189.30 151.7L189.80 151.8L190.30 151.9L190.80 152.0L191.30 152.1L191.80 152.2L192.30 152.2L192.80 152.3L193.30 152.4L193.80 152.5L194.30 152.6L194.80 152.7L194.90 152.7L195.30 152.8L195.80 152.9L196.30 152.9L196.80 153.0L197.30 153.1L197.80 153.2L198.30 153.3L198.80 153.4L199.30 153.4L199.80 153.5L200.30 153.6L200.80 153.7L201.30 153.8L201.80 153.9L202.30 154.0L202.80 154.0L203.30 154.1L203.80 154.2L204.30 154.3L204.80 154.4L205.30 154.5L205.80 154.6L206.30 154.6L206.80 154.7L207.30 154.8L207.80 154.9L208.30 155.0L208.80 155.1L209.30 155.2L209.80 155.3L210.30 155.4L210.80 155.5L211.30 155.5L211.80 155.6L212.10 155.7L212.30 155.7L212.80 155.8L213.30 155.9L213.80 156.0L214.30 156.2L214.80 156.3L215.30 156.4L215.80 156.5L216.30 156.6L216.80 156.7L217.30 156.9L217.80 157.0L218.30 157.1L218.80 157.3L219.30 157.4L219.80 157.5L220.30 157.7L220.80 157.8L221.30 157.9L221.80 158.1L222.30 158.2L222.80 158.4L223.30 158.5L223.80 158.6L224.30 158.8L224.80 158.9L225.30 159.1L225.80 159.2L226.30 159.4L226.80 159.5L227.30 159.6L227.80 159.8L228.30 159.9L228.80 160.1L229.30 160.2L229.80 160.3L230.30 160.5L230.80 160.6L231.30 160.8L231.80 160.9L232.30 161.1L232.80 161.2L233.30 161.4L233.80 161.5L234.30 161.7L234.80 161.8L235.30 162.0L235.80 162.1L236.30 162.3L236.80 162.4L237.30 162.6L237.80 162.7L238.30 162.9L238.80 163.1L239.30 163.2L239.80 163.4L240.30 163.5L240.80 163.7L241.30 163.8L241.80 163.9L242.30 164.1L242.80 164.2L243.30 164.4L243.80 164.5L244.30 164.6L244.80 164.8L245.30 164.9L245.80 165.0L246.30 165.2L246.50 165.2L246.80 165.3L247.30 165.4L247.80 165.5L248.30 165.6L248.80 165.7L249.30 165.9L249.80 166.0L250.30 166.1L250.80 166.2L251.30 166.3L251.80 166.4L252.30 166.5L252.80 166.6L253.30 166.8L253.80 166.9L254.30 167.0L254.80 167.1L255.30 167.2L255.80 167.3L256.30 167.4L256.80 167.5L257.30 167.7L257.80 167.8L258.30 167.9L258.80 168.0L259.30 168.1L259.80 168.2L260.30 168.4L260.80 168.5L261.30 168.6L261.80 168.7L262.30 168.8L262.80 169.0L263.30 169.1L263.70 169.2L263.80 169.2L264.30 169.4L264.80 169.5L265.30 169.6L265.80 169.8L266.30 170.0L266.80 170.1L267.30 170.3L267.80 170.4L268.30 170.6L268.80 170.8L269.30 171.0L269.80 171.1L270.30 171.3L270.80 171.5L271.30 171.7L271.80 171.9L272.30 172.1L272.80 172.2L273.30 172.4L273.80 172.6L274.30 172.8L274.80 173.0L275.30 173.2L275.80 173.3L276.30 173.5L276.80 173.7L277.30 173.9L277.80 174.0L278.30 174.2L278.80 174.4L279.30 174.5L279.80 174.7L280.30 174.8L280.80 175.0L280.90 175.0L281.30 175.1L281.80 175.3L282.30 175.4L282.80 175.5L283.30 175.7L283.80 175.8L284.30 175.9L284.80 176.1L285.30 176.2L285.80 176.3L286.30 176.5L286.80 176.6L287.30 176.7L287.80 176.9L288.30 177.0L288.80 177.1L289.30 177.3L289.80 177.4L290.30 177.6L290.80 177.7L291.30 177.8L291.80 178.0L292.30 178.1L292.80 178.2L293.30 178.4L293.80 178.5L294.30 178.7L294.80 178.8L295.30 179.0L295.80 179.1L296.30 179.3L296.80 179.4L297.30 179.6L297.80 179.7L298.10 179.8L298.30 179.9L298.80 180.0L299.30 180.2L299.80 180.3L300.30 180.5L300.80 180.7L301.30 180.9L301.80 181.0L302.30 181.2L302.80 181.4L303.30 181.6L303.80 181.8L304.30 182.0L304.80 182.2L305.30 182.4L305.80 182.6L306.30 182.8L306.80 183.0L307.30 183.2L307.80 183.4L308.30 183.6L308.80 183.8L309.30 184.0L309.80 184.2L310.30 184.4L310.80 184.6L311.30 184.8L311.80 185.0L312.30 185.2L312.80 185.5L313.30 185.7L313.80 185.9L314.30 186.1L314.80 186.3L315.30 186.5L315.80 186.7L316.30 186.9L316.80 187.1L317.30 187.3L317.80 187.6L318.30 187.8L318.80 188.0L319.30 188.2L319.80 188.4L320.30 188.6L320.80 188.9L321.30 189.1L321.80 189.3L322.30 189.5L322.80 189.7L323.30 190.0L323.80 190.2L324.30 190.4L324.80 190.7L325.30 190.9L325.80 191.1L326.30 191.3L326.80 191.6L327.30 191.8L327.80 192.0L328.30 192.3L328.80 192.5L329.30 192.7L329.80 192.9L330.30 193.2L330.80 193.4L331.30 193.6L331.80 193.9L332.30 194.1L332.50 194.2L332.80 194.3L333.30 194.6L333.80 194.8L334.30 195.0L334.80 195.3L335.30 195.5L335.80 195.7L336.30 196.0L336.80 196.2L337.30 196.4L337.80 196.7L338.30 196.9L338.80 197.1L339.30 197.4L339.80 197.6L340.30 197.8L340.80 198.1L341.30 198.3L341.80 198.6L342.30 198.8L342.80 199.0L343.30 199.3L343.80 199.5L344.30 199.8L344.80 200.1L345.30 200.3L345.80 200.6L346.30 200.8L346.80 201.1L347.30 201.4L347.80 201.6L348.30 201.9L348.80 202.2L349.30 202.5L349.70 202.7L349.80 202.8L350.30 203.0L350.80 203.3L351.30 203.7L351.80 204.0L352.30 204.3L352.80 204.6L353.30 205.0L353.80 205.3L354.30 205.6L354.80 206.0L355.30 206.3L355.80 206.7L356.30 207.1L356.80 207.4L357.30 207.8L357.80 208.2L358.30 208.5L358.80 208.9L359.30 209.3L359.80 209.7L360.30 210.0L360.80 210.4L361.30 210.8L361.80 211.2L362.30 211.5L362.80 211.9L363.30 212.3L363.80 212.7L364.30 213.0L364.80 213.4L365.30 213.8L365.80 214.1L366.30 214.5L366.80 214.8L366.90 214.9L367.30 215.2L367.80 215.5L368.30 215.9L368.80 216.2L369.30 216.6L369.80 216.9L370.30 217.3L370.80 217.7L371.30 218.0L371.80 218.4L372.30 218.7L372.80 219.1L373.30 219.5L373.80 219.8L374.30 220.2L374.80 220.6L375.30 221.0L375.80 221.3L376.30 221.7L376.80 222.1L377.30 222.5L377.80 222.9L378.30 223.3L378.80 223.7L379.30 224.1L379.80 224.5L380.30 224.9L380.80 225.3L381.30 225.8L381.80 226.2L382.30 226.6L382.80 227.0L383.30 227.5L383.80 227.9L384.10 228.2L384.30 228.4L384.80 228.8L385.30 229.3L385.80 229.8L386.30 230.2L386.80 230.7L387.30 231.2L387.80 231.7L388.30 232.2L388.80 232.7L389.30 233.2L389.80 233.7L390.30 234.3L390.80 234.8L391.30 235.3L391.80 235.9L392.30 236.4L392.80 237.0L393.30 237.6L393.80 238.1L394.30 238.7L394.80 239.3L395.30 239.9L395.80 240.5L396.30 241.1L396.80 241.7L397.30 242.4L397.80 243.0L398.30 243.7L398.80 244.3L399.30 245.0L399.80 245.7L400.30 246.4L400.80 247.1L401.30 247.8L401.80 248.5L402.30 249.3L402.80 250.0L403.30 250.8L403.80 251.6L404.30 252.4L404.80 253.2L405.30 254.1L405.80 254.9L406.30 255.8L406.80 256.7L407.30 257.7L407.80 258.6L408.30 259.6L408.80 260.6L409.30 261.7L409.80 262.7L410.30 263.8L410.70 264.7L410.80 265.0L411.30 266.2L411.80 267.4L411.86 267.5L412.30 268.7L412.80 270.0L412.94 270.3L413.30 271.3L413.80 272.8L413.93 273.1L414.30 274.3L414.80 275.8L414.84 276.0L415.30 277.4L415.69 278.8L415.80 279.2L416.30 280.9L416.46 281.6L416.80 282.8L417.18 284.4L417.30 284.9L417.80 287.0L417.84 287.2L418.30 289.2L418.45 290.0L418.50 290.2L418.80 291.7L419.01 292.8L419.30 294.3L419.53 295.6L419.80 297.1L420.01 298.4L420.30 300.2L420.45 301.2L420.80 303.6L420.86 304.0L421.24 306.9L421.30 307.4L421.58 309.7L421.80 311.6L421.90 312.5L422.20 315.3L422.30 316.4L422.47 318.1L422.72 320.9L422.80 321.9L422.95 323.8L423.16 326.6L423.30 328.5L423.36 329.4L423.54 332.2L423.71 335.0L423.80 336.6L423.86 337.8L424.01 340.6L424.14 343.4L424.26 346.2L424.30 347.2L424.37 349.0L424.47 351.8L424.57 354.6L424.66 357.4L424.74 360.2L424.80 362.4L424.81 363.0L424.88 365.8L424.95 368.5L425.00 371.3L425.06 374.1L425.11 376.9L425.15 379.7L425.20 382.5L425.24 385.3L425.27 388.1L425.70 388.3L426.13 388.2L426.16 385.4L426.20 382.7L426.25 379.9L426.29 377.1L426.30 376.7L426.34 374.3L426.40 371.6L426.45 368.8L426.52 366.0L426.59 363.3L426.66 360.5L426.74 357.7L426.80 355.9L426.83 355.0L426.93 352.2L427.03 349.4L427.14 346.7L427.26 343.9L427.30 343.1L427.39 341.2L427.54 338.4L427.69 335.7L427.80 333.8L427.86 332.9L428.04 330.2L428.24 327.4L428.30 326.6L428.45 324.7L428.68 321.9L428.80 320.6L428.93 319.2L429.20 316.5L429.30 315.5L429.50 313.7L429.80 311.1L429.82 311.0L430.16 308.3L430.30 307.3L430.54 305.6L430.80 303.8L430.95 302.8L431.30 300.7L431.39 300.1L431.80 297.8L431.87 297.4L432.30 295.1L432.39 294.7L432.80 292.7L432.95 292.0L433.30 290.4L433.56 289.3L433.80 288.3L434.22 286.6L434.30 286.3L434.80 284.4L434.94 283.9L435.30 282.6L435.70 281.2L435.71 281.2L435.80 280.9L436.30 279.2L436.56 278.4L436.80 277.7L437.30 276.2L437.47 275.7L437.80 274.8L438.30 273.4L438.46 273.0L438.80 272.1L439.30 270.8L439.54 270.3L439.80 269.6L440.30 268.5L440.70 267.6L440.80 267.3L441.30 266.2L441.80 265.2L442.30 264.2L442.80 263.2L443.30 262.2L443.80 261.3L444.30 260.4L444.80 259.5L445.30 258.6L445.80 257.7L446.30 256.9L446.80 256.1L447.30 255.3L447.80 254.6L448.30 253.8L448.80 253.1L449.30 252.3L449.80 251.6L450.30 250.9L450.80 250.2L451.30 249.6L451.80 248.9L452.30 248.3L452.80 247.6L452.90 247.5L453.30 247.0L453.80 246.4L454.30 245.8L454.80 245.1L455.30 244.5L455.80 243.9L456.30 243.4L456.80 242.8L457.30 242.2L457.80 241.6L458.30 241.1L458.80 240.5L459.30 239.9L459.80 239.4L460.30 238.8L460.80 238.3L461.30 237.8L461.80 237.3L462.30 236.7L462.80 236.2L463.30 235.7L463.80 235.2L464.30 234.7L464.80 234.2L465.30 233.7L465.80 233.3L466.30 232.8L466.80 232.3L467.30 231.9L467.80 231.4L468.30 231.0L468.80 230.5L469.30 230.1L469.80 229.7L470.10 229.4L470.30 229.2L470.80 228.8L471.30 228.4L471.80 228.0L472.30 227.6L472.80 227.2L473.30 226.8L473.80 226.4L474.30 226.0L474.80 225.7L475.30 225.3L475.80 224.9L476.30 224.5L476.80 224.2L477.30 223.8L477.80 223.5L478.30 223.1L478.80 222.8L479.30 222.4L479.80 222.1L480.30 221.7L480.80 221.4L481.30 221.0L481.80 220.7L482.30 220.4L482.80 220.0L483.30 219.7L483.80 219.4L484.30 219.0L484.80 218.7L485.30 218.4L485.80 218.1L486.30 217.7L486.80 217.4L487.30 217.1L487.80 216.8L488.30 216.5L488.80 216.1L489.30 215.8L489.80 215.5L490.30 215.2L490.80 214.9L491.30 214.5L491.80 214.2L492.30 213.9L492.80 213.6L493.30 213.3L493.80 213.0L494.30 212.6L494.80 212.3L495.30 212.0L495.80 211.7L496.30 211.4L496.80 211.1L497.30 210.8L497.80 210.5L498.30 210.1L498.80 209.8L499.30 209.5L499.80 209.2L500.30 208.9L500.80 208.6L501.30 208.3L501.80 208.0L502.30 207.7L502.80 207.4L503.30 207.1L503.80 206.8L504.30 206.5L504.50 206.4L504.80 206.2L505.30 205.9L505.80 205.6L506.30 205.3L506.80 205.0L507.30 204.7L507.80 204.4L508.30 204.1L508.80 203.8L509.30 203.5L509.80 203.3L510.30 203.0L510.80 202.7L511.30 202.4L511.80 202.1L512.30 201.8L512.80 201.5L513.30 201.2L513.80 200.9L514.30 200.6L514.80 200.3L515.30 200.0L515.80 199.7L516.30 199.4L516.80 199.1L517.30 198.8L517.80 198.6L518.30 198.3L518.80 198.0L519.30 197.7L519.80 197.4L520.30 197.2L520.80 196.9L521.30 196.6L521.70 196.4L521.80 196.3L522.30 196.1L522.80 195.8L523.30 195.5L523.80 195.3L524.30 195.0L524.80 194.7L525.30 194.5L525.80 194.2L526.30 194.0L526.80 193.7L527.30 193.4L527.80 193.2L528.30 192.9L528.80 192.7L529.30 192.4L529.80 192.2L530.30 191.9L530.80 191.6L531.30 191.4L531.80 191.1L532.30 190.9L532.80 190.6L533.30 190.4L533.80 190.1L534.30 189.9L534.80 189.7L535.30 189.4L535.80 189.2L536.30 188.9L536.80 188.7L537.30 188.5L537.80 188.2L538.30 188.0L538.80 187.7L538.90 187.7L539.30 187.5L539.80 187.3L540.30 187.1L540.80 186.8L541.30 186.6L541.80 186.4L542.30 186.1L542.80 185.9L543.30 185.7L543.80 185.5L544.30 185.2L544.80 185.0L545.30 184.8L545.80 184.6L546.30 184.4L546.80 184.2L547.30 183.9L547.80 183.7L548.30 183.5L548.80 183.3L549.30 183.1L549.80 182.9L550.30 182.6L550.80 182.4L551.30 182.2L551.80 182.0L552.30 181.8L552.80 181.6L553.30 181.4L553.80 181.2L554.30 181.0L554.80 180.7L555.30 180.5L555.80 180.3L556.10 180.2L556.30 180.1L556.80 179.9L557.30 179.7L557.80 179.5L558.30 179.3L558.80 179.1L559.30 178.9L559.80 178.6L560.30 178.4L560.80 178.2L561.30 178.0L561.80 177.8L562.30 177.6L562.80 177.4L563.30 177.2L563.80 177.0L564.30 176.8L564.80 176.5L565.30 176.3L565.80 176.1L566.30 175.9L566.80 175.7L567.30 175.5L567.80 175.3L568.30 175.1L568.80 174.9L569.30 174.7L569.80 174.5L570.30 174.3L570.80 174.1L571.30 174.0L571.80 173.8L572.30 173.6L572.80 173.4L573.30 173.2L573.80 173.0L574.30 172.8L574.80 172.7L575.30 172.5L575.80 172.3L576.30 172.1L576.80 171.9L577.30 171.8L577.80 171.6L578.30 171.4L578.80 171.2L579.30 171.1L579.80 170.9L580.30 170.7L580.80 170.6L581.30 170.4L581.80 170.2L582.30 170.1L582.80 169.9L583.30 169.7L583.80 169.6L584.30 169.4L584.80 169.2L585.30 169.1L585.80 168.9L586.30 168.8L586.80 168.6L587.30 168.4L587.80 168.3L588.30 168.1L588.80 167.9L589.30 167.8L589.80 167.6L590.30 167.5L590.50 167.4L590.80 167.3L591.30 167.1L591.80 167.0L592.30 166.8L592.80 166.7L593.30 166.5L593.80 166.3L594.30 166.2L594.80 166.0L595.30 165.8L595.80 165.7L596.30 165.5L596.80 165.4L597.30 165.2L597.80 165.0L598.30 164.9L598.80 164.7L599.30 164.6L599.80 164.4L600.30 164.2L600.80 164.1L601.30 163.9L601.80 163.8L602.30 163.6L602.80 163.5L603.30 163.3L603.80 163.2L604.30 163.0L604.80 162.9L605.30 162.7L605.80 162.6L606.30 162.5L606.80 162.3L607.30 162.2L607.70 162.1L607.80 162.1L608.30 161.9L608.80 161.8L609.30 161.7L609.80 161.6L610.30 161.4L610.80 161.3L611.30 161.2L611.80 161.1L612.30 161.0L612.80 160.8L613.30 160.7L613.80 160.6L614.30 160.5L614.80 160.4L615.30 160.3L615.80 160.2L616.30 160.0L616.80 159.9L617.30 159.8L617.80 159.7L618.30 159.6L618.80 159.5L619.30 159.4L619.80 159.3L620.30 159.2L620.80 159.0L621.30 158.9L621.80 158.8L622.30 158.7L622.80 158.6L623.30 158.5L623.80 158.4L624.30 158.2L624.80 158.1L624.90 158.1L625.30 158.0L625.80 157.9L626.30 157.8L626.80 157.6L627.30 157.5L627.80 157.4L628.30 157.3L628.80 157.2L629.30 157.0L629.80 156.9L630.30 156.8L630.80 156.7L631.30 156.5L631.80 156.4L632.30 156.3L632.80 156.2L633.30 156.0L633.80 155.9L634.30 155.8L634.80 155.7L635.30 155.5L635.80 155.4L636.30 155.3L636.80 155.2L637.30 155.0L637.80 154.9L638.30 154.8L638.80 154.7L639.30 154.6L639.80 154.4L640.30 154.3L640.80 154.2L641.30 154.1L641.80 154.0L642.10 153.9L642.30 153.9L642.80 153.7L643.30 153.6L643.80 153.5L644.30 153.4L644.80 153.3L645.30 153.2L645.80 153.1L646.30 152.9L646.80 152.8L647.30 152.7L647.80 152.6L648.30 152.5L648.80 152.4L649.30 152.3L649.80 152.2L650.30 152.1L650.80 151.9L651.30 151.8L651.80 151.7L652.30 151.6L652.80 151.5L653.30 151.4L653.80 151.3L654.30 151.2L654.80 151.1L655.30 151.0L655.80 150.9L656.30 150.8L656.80 150.7L657.30 150.6L657.80 150.5L658.30 150.4L658.80 150.3L659.30 150.2L659.80 150.1L660.30 150.0L660.80 149.9L661.30 149.8L661.80 149.7L662.30 149.6L662.80 149.5L663.30 149.5L663.80 149.4L664.30 149.3L664.80 149.2L665.30 149.1L665.80 149.0L666.30 148.9L666.80 148.8L667.30 148.7L667.80 148.6L668.30 148.6L668.80 148.5L669.30 148.4L669.80 148.3L670.30 148.2L670.80 148.1L671.30 148.0L671.80 148.0L672.30 147.9L672.80 147.8L673.30 147.7L673.80 147.6L674.30 147.5L674.80 147.5L675.30 147.4L675.80 147.3L676.30 147.2L676.50 147.2" fill="none" stroke="#0000ff" stroke-width="3.1" stroke-linejoin="round" stroke-linecap="round"/>
<path d="M143.3 139.0L149.5 149.2L137.1 149.2Z" fill="#0000ff"/>
<path d="M160.5 140.7L166.7 150.9L154.3 150.9Z" fill="#0000ff"/>
<path d="M177.7 143.5L183.9 153.7L171.5 153.7Z" fill="#0000ff"/>
<path d="M194.9 146.5L201.1 156.7L188.7 156.7Z" fill="#0000ff"/>
<path d="M212.1 149.5L218.3 159.7L205.9 159.7Z" fill="#0000ff"/>
<path d="M229.3 154.0L235.5 164.2L223.1 164.2Z" fill="#0000ff"/>
<path d="M246.5 159.0L252.7 169.2L240.3 169.2Z" fill="#0000ff"/>
<path d="M263.7 163.0L269.9 173.2L257.5 173.2Z" fill="#0000ff"/>
<path d="M280.9 168.8L287.1 179.0L274.7 179.0Z" fill="#0000ff"/>
<path d="M298.1 173.6L304.3 183.8L291.9 183.8Z" fill="#0000ff"/>
<path d="M315.3 180.3L321.5 190.5L309.1 190.5Z" fill="#0000ff"/>
<path d="M332.5 188.0L338.7 198.2L326.3 198.2Z" fill="#0000ff"/>
<path d="M349.7 196.5L355.9 206.7L343.5 206.7Z" fill="#0000ff"/>
<path d="M366.9 208.7L373.1 218.9L360.7 218.9Z" fill="#0000ff"/>
<path d="M384.1 222.0L390.3 232.2L377.9 232.2Z" fill="#0000ff"/>
<path d="M401.3 241.6L407.5 251.8L395.1 251.8Z" fill="#0000ff"/>
<path d="M418.5 284.0L424.7 294.2L412.3 294.2Z" fill="#0000ff"/>
<path d="M435.7 275.0L441.9 285.2L429.5 285.2Z" fill="#0000ff"/>
<path d="M452.9 241.3L459.1 251.5L446.7 251.5Z" fill="#0000ff"/>
<path d="M470.1 223.2L476.3 233.4L463.9 233.4Z" fill="#0000ff"/>
<path d="M487.3 210.9L493.5 221.1L481.1 221.1Z" fill="#0000ff"/>
<path d="M504.5 200.2L510.7 210.4L498.3 210.4Z" fill="#0000ff"/>
<path d="M521.7 190.2L527.9 200.4L515.5 200.4Z" fill="#0000ff"/>
<path d="M538.9 181.5L545.1 191.7L532.7 191.7Z" fill="#0000ff"/>
<path d="M556.1 174.0L562.3 184.2L549.9 184.2Z" fill="#0000ff"/>
<path d="M573.3 167.0L579.5 177.2L567.1 177.2Z" fill="#0000ff"/>
<path d="M590.5 161.2L596.7 171.4L584.3 171.4Z" fill="#0000ff"/>
<path d="M607.7 155.9L613.9 166.1L601.5 166.1Z" fill="#0000ff"/>
<path d="M624.9 151.9L631.1 162.1L618.7 162.1Z" fill="#0000ff"/>
<path d="M642.1 147.7L648.3 157.9L635.9 157.9Z" fill="#0000ff"/>
<path d="M659.3 144.0L665.5 154.2L653.1 154.2Z" fill="#0000ff"/>
<path d="M676.5 141.0L682.7 151.2L670.3 151.2Z" fill="#0000ff"/>
</g>
<g id="s-magenta">
<path d="M132.50 102.3L133.00 102.5L133.50 102.7L134.00 102.9L134.50 103.1L135.00 103.3L135.50 103.5L136.00 103.7L136.50 103.9L137.00 104.1L137.50 104.3L138.00 104.5L138.50 104.7L139.00 105.0L139.50 105.2L140.00 105.4L140.50 105.6L141.00 105.8L141.50 106.0L142.00 106.2L142.50 106.4L143.00 106.7L143.50 106.9L144.00 107.1L144.50 107.3L145.00 107.5L145.50 107.7L146.00 108.0L146.50 108.2L147.00 108.4L147.50 108.6L148.00 108.8L148.50 109.1L149.00 109.3L149.50 109.5L149.70 109.6L150.00 109.7L150.50 110.0L151.00 110.2L151.50 110.4L152.00 110.7L152.50 110.9L153.00 111.1L153.50 111.4L154.00 111.6L154.50 111.8L155.00 112.1L155.50 112.3L156.00 112.5L156.50 112.8L157.00 113.0L157.50 113.3L158.00 113.5L158.50 113.8L159.00 114.0L159.50 114.2L160.00 114.5L160.50 114.7L161.00 115.0L161.50 115.2L162.00 115.5L162.50 115.7L163.00 115.9L163.50 116.2L164.00 116.4L164.50 116.7L165.00 116.9L165.50 117.1L166.00 117.4L166.50 117.6L166.90 117.8L167.00 117.8L167.50 118.1L168.00 118.3L168.50 118.6L169.00 118.8L169.50 119.0L170.00 119.3L170.50 119.5L171.00 119.8L171.50 120.0L172.00 120.3L172.50 120.5L173.00 120.7L173.50 121.0L174.00 121.2L174.50 121.5L175.00 121.7L175.50 122.0L176.00 122.2L176.50 122.4L177.00 122.7L177.50 122.9L178.00 123.1L178.50 123.4L179.00 123.6L179.50 123.8L180.00 124.1L180.50 124.3L181.00 124.5L181.50 124.7L182.00 124.9L182.50 125.1L183.00 125.4L183.50 125.6L184.00 125.8L184.10 125.8L184.50 126.0L185.00 126.2L185.50 126.3L186.00 126.5L186.50 126.7L187.00 126.9L187.50 127.1L188.00 127.3L188.50 127.5L189.00 127.6L189.50 127.8L190.00 128.0L190.50 128.2L191.00 128.3L191.50 128.5L192.00 128.7L192.50 128.9L193.00 129.0L193.50 129.2L194.00 129.4L194.50 129.5L195.00 129.7L195.50 129.9L196.00 130.1L196.50 130.2L197.00 130.4L197.50 130.6L198.00 130.8L198.50 130.9L199.00 131.1L199.50 131.3L200.00 131.5L200.50 131.7L201.00 131.9L201.30 132.0L201.50 132.1L202.00 132.3L202.50 132.5L203.00 132.7L203.50 132.9L204.00 133.1L204.50 133.3L205.00 133.5L205.50 133.7L206.00 133.9L206.50 134.1L207.00 134.3L207.50 134.5L208.00 134.8L208.50 135.0L209.00 135.2L209.50 135.4L210.00 135.6L210.50 135.8L211.00 136.0L211.50 136.3L212.00 136.5L212.50 136.7L213.00 136.9L213.50 137.1L214.00 137.4L214.50 137.6L215.00 137.8L215.50 138.0L216.00 138.2L216.50 138.4L217.00 138.7L217.50 138.9L218.00 139.1L218.50 139.3L219.00 139.5L219.50 139.7L220.00 139.9L220.50 140.1L221.00 140.4L221.50 140.6L222.00 140.8L222.50 141.0L223.00 141.2L223.50 141.4L224.00 141.6L224.50 141.8L225.00 142.0L225.50 142.2L226.00 142.4L226.50 142.6L227.00 142.8L227.50 143.1L228.00 143.3L228.50 143.5L229.00 143.7L229.50 143.9L230.00 144.1L230.50 144.3L231.00 144.6L231.50 144.8L232.00 145.0L232.50 145.2L233.00 145.4L233.50 145.7L234.00 145.9L234.50 146.1L235.00 146.4L235.50 146.6L235.70 146.7L236.00 146.8L236.50 147.1L237.00 147.3L237.50 147.6L238.00 147.8L238.50 148.1L239.00 148.3L239.50 148.6L240.00 148.9L240.50 149.1L241.00 149.4L241.50 149.7L242.00 149.9L242.50 150.2L243.00 150.5L243.50 150.8L244.00 151.1L244.50 151.3L245.00 151.6L245.50 151.9L246.00 152.2L246.50 152.4L247.00 152.7L247.50 153.0L248.00 153.3L248.50 153.6L249.00 153.9L249.50 154.1L250.00 154.4L250.50 154.7L251.00 155.0L251.50 155.2L252.00 155.5L252.50 155.8L252.90 156.0L253.00 156.1L253.50 156.3L254.00 156.6L254.50 156.9L255.00 157.1L255.50 157.4L256.00 157.7L256.50 157.9L257.00 158.2L257.50 158.5L258.00 158.7L258.50 159.0L259.00 159.2L259.50 159.5L260.00 159.8L260.50 160.0L261.00 160.3L261.50 160.6L262.00 160.8L262.50 161.1L263.00 161.4L263.50 161.6L264.00 161.9L264.50 162.2L265.00 162.5L265.50 162.7L266.00 163.0L266.50 163.3L267.00 163.6L267.50 163.8L268.00 164.1L268.50 164.4L269.00 164.7L269.50 165.0L270.00 165.2L270.10 165.3L270.50 165.5L271.00 165.8L271.50 166.1L272.00 166.4L272.50 166.7L273.00 167.0L273.50 167.3L274.00 167.6L274.50 167.9L275.00 168.2L275.50 168.5L276.00 168.8L276.50 169.1L277.00 169.4L277.50 169.7L278.00 170.0L278.50 170.3L279.00 170.6L279.50 170.9L280.00 171.2L280.50 171.5L281.00 171.8L281.50 172.1L282.00 172.5L282.50 172.8L283.00 173.1L283.50 173.4L284.00 173.7L284.50 174.0L285.00 174.3L285.50 174.7L286.00 175.0L286.50 175.3L287.00 175.6L287.30 175.8L287.50 175.9L288.00 176.2L288.50 176.6L289.00 176.9L289.50 177.2L290.00 177.5L290.50 177.8L291.00 178.2L291.50 178.5L292.00 178.8L292.50 179.1L293.00 179.5L293.50 179.8L294.00 180.1L294.50 180.5L295.00 180.8L295.50 181.1L296.00 181.4L296.50 181.8L297.00 182.1L297.50 182.4L298.00 182.8L298.50 183.1L299.00 183.4L299.50 183.8L300.00 184.1L300.50 184.5L301.00 184.8L301.50 185.1L302.00 185.5L302.50 185.8L303.00 186.2L303.50 186.5L304.00 186.9L304.50 187.2L305.00 187.5L305.50 187.9L306.00 188.2L306.50 188.6L307.00 188.9L307.50 189.3L308.00 189.7L308.50 190.0L309.00 190.4L309.50 190.7L310.00 191.1L310.50 191.4L311.00 191.8L311.50 192.2L312.00 192.5L312.50 192.9L313.00 193.3L313.50 193.6L314.00 194.0L314.50 194.3L315.00 194.7L315.50 195.1L316.00 195.5L316.50 195.8L317.00 196.2L317.50 196.6L318.00 196.9L318.50 197.3L319.00 197.7L319.50 198.1L320.00 198.4L320.50 198.8L321.00 199.2L321.50 199.5L321.70 199.7L322.00 199.9L322.50 200.3L323.00 200.7L323.50 201.1L324.00 201.4L324.50 201.8L325.00 202.2L325.50 202.6L326.00 203.0L326.50 203.4L327.00 203.8L327.50 204.2L328.00 204.5L328.50 204.9L329.00 205.3L329.50 205.7L330.00 206.1L330.50 206.5L331.00 206.9L331.50 207.3L332.00 207.7L332.50 208.1L333.00 208.5L333.50 208.9L334.00 209.3L334.50 209.7L335.00 210.1L335.50 210.5L336.00 210.9L336.50 211.3L337.00 211.7L337.50 212.1L338.00 212.5L338.50 212.9L338.90 213.2L339.00 213.3L339.50 213.7L340.00 214.1L340.50 214.5L341.00 214.9L341.50 215.2L342.00 215.6L342.50 216.0L343.00 216.4L343.50 216.8L344.00 217.2L344.50 217.6L345.00 218.0L345.50 218.4L346.00 218.8L346.50 219.2L347.00 219.6L347.50 220.0L348.00 220.4L348.50 220.8L349.00 221.2L349.50 221.6L350.00 222.0L350.50 222.4L351.00 222.9L351.50 223.3L352.00 223.7L352.50 224.2L353.00 224.6L353.50 225.0L354.00 225.5L354.50 225.9L355.00 226.4L355.50 226.8L356.00 227.3L356.10 227.4L356.50 227.8L357.00 228.3L357.50 228.7L358.00 229.2L358.50 229.7L359.00 230.2L359.50 230.7L360.00 231.3L360.50 231.8L361.00 232.3L361.50 232.8L362.00 233.4L362.50 233.9L363.00 234.4L363.50 235.0L364.00 235.5L364.50 236.1L365.00 236.7L365.50 237.2L366.00 237.8L366.50 238.4L367.00 238.9L367.50 239.5L368.00 240.1L368.50 240.7L369.00 241.3L369.50 241.9L370.00 242.4L370.50 243.0L371.00 243.6L371.50 244.2L372.00 244.8L372.50 245.4L373.00 246.0L373.30 246.4L373.50 246.6L374.00 247.3L374.50 247.9L375.00 248.5L375.50 249.2L376.00 249.8L376.50 250.5L377.00 251.2L377.50 251.9L378.00 252.6L378.50 253.3L379.00 254.0L379.50 254.7L380.00 255.4L380.50 256.1L381.00 256.9L381.50 257.6L382.00 258.4L382.50 259.1L383.00 259.9L383.50 260.6L384.00 261.4L384.50 262.2L385.00 262.9L385.50 263.7L386.00 264.5L386.50 265.3L387.00 266.1L387.50 266.9L388.00 267.7L388.50 268.5L389.00 269.3L389.50 270.1L390.00 270.9L390.50 271.7L391.00 272.5L391.50 273.4L392.00 274.2L392.50 275.1L393.00 276.0L393.50 276.9L394.00 277.9L394.50 278.8L395.00 279.8L395.50 280.8L396.00 281.9L396.50 283.0L397.00 284.1L397.50 285.2L397.66 285.6L398.00 286.4L398.50 287.7L398.74 288.3L399.00 289.0L399.50 290.3L399.73 290.9L400.00 291.7L400.50 293.2L400.64 293.6L401.00 294.7L401.49 296.2L401.50 296.3L402.00 298.0L402.26 298.9L402.50 299.8L402.98 301.6L403.00 301.6L403.50 303.6L403.64 304.2L404.00 305.8L404.25 306.9L404.50 308.1L404.81 309.6L405.00 310.5L405.33 312.3L405.50 313.2L405.81 314.9L406.00 316.1L406.25 317.6L406.50 319.2L406.66 320.3L407.00 322.8L407.04 323.0L407.38 325.7L407.50 326.7L407.70 328.5L408.00 331.2L408.00 331.2L408.27 333.9L408.50 336.4L408.52 336.6L408.75 339.4L408.80 340.0L408.96 342.1L409.00 342.6L409.16 344.8L409.34 347.6L409.50 350.1L409.51 350.3L409.66 353.1L409.81 355.8L409.94 358.6L410.00 359.9L410.06 361.3L410.17 364.1L410.27 366.8L410.37 369.6L410.46 372.4L410.50 373.8L410.54 375.1L410.61 377.9L410.68 380.6L410.75 383.4L410.80 386.2L410.86 388.9L410.91 391.7L410.95 394.5L411.00 397.3L411.00 397.5L411.04 400.0L411.07 402.8L411.10 405.6L411.14 408.3L411.50 410.9L411.86 408.2L411.90 405.4L411.93 402.6L411.96 399.8L412.00 397.3L412.00 397.0L412.05 394.2L412.09 391.4L412.14 388.7L412.20 385.9L412.25 383.1L412.32 380.3L412.39 377.5L412.46 374.7L412.50 373.3L412.54 371.9L412.63 369.1L412.73 366.3L412.83 363.5L412.94 360.7L413.00 359.3L413.06 357.9L413.19 355.1L413.34 352.2L413.49 349.4L413.50 349.2L413.66 346.6L413.84 343.8L414.00 341.4L414.04 341.0L414.25 338.1L414.48 335.3L414.50 335.1L414.73 332.5L415.00 329.6L415.00 329.6L415.30 326.8L415.50 324.9L415.62 323.9L415.96 321.0L416.00 320.8L416.34 318.2L416.50 317.0L416.75 315.3L417.00 313.6L417.19 312.4L417.50 310.5L417.67 309.5L418.00 307.6L418.19 306.6L418.50 305.0L418.75 303.7L419.00 302.5L419.36 300.8L419.50 300.1L420.00 297.9L420.02 297.9L420.50 295.9L420.74 294.9L421.00 293.9L421.50 292.0L421.51 292.0L422.00 290.2L422.36 289.0L422.50 288.5L423.00 286.9L423.27 286.0L423.50 285.3L424.00 283.8L424.26 283.0L424.50 282.3L424.90 281.2L425.00 280.9L425.34 280.0L425.50 279.6L426.00 278.3L426.50 277.0L427.00 275.7L427.50 274.5L428.00 273.4L428.50 272.2L429.00 271.1L429.50 270.1L430.00 269.0L430.50 268.0L431.00 267.0L431.50 266.0L432.00 265.0L432.50 264.1L433.00 263.2L433.50 262.2L434.00 261.3L434.50 260.5L435.00 259.6L435.50 258.7L436.00 257.9L436.50 257.1L437.00 256.3L437.50 255.4L438.00 254.6L438.50 253.9L439.00 253.1L439.50 252.3L440.00 251.5L440.50 250.8L441.00 250.0L441.50 249.3L442.00 248.5L442.10 248.4L442.50 247.8L443.00 247.1L443.50 246.3L444.00 245.6L444.50 244.9L445.00 244.2L445.50 243.4L446.00 242.7L446.50 242.0L447.00 241.2L447.50 240.5L448.00 239.8L448.50 239.1L449.00 238.3L449.50 237.6L450.00 236.9L450.50 236.2L451.00 235.5L451.50 234.7L452.00 234.0L452.50 233.3L453.00 232.6L453.50 231.9L454.00 231.2L454.50 230.5L455.00 229.7L455.50 229.0L456.00 228.3L456.50 227.6L457.00 226.9L457.50 226.2L458.00 225.5L458.50 224.8L459.00 224.1L459.30 223.7L459.50 223.4L460.00 222.7L460.50 222.0L461.00 221.3L461.50 220.6L462.00 219.9L462.50 219.2L463.00 218.4L463.50 217.7L464.00 217.0L464.50 216.2L465.00 215.5L465.50 214.8L466.00 214.0L466.50 213.3L467.00 212.5L467.50 211.8L468.00 211.0L468.50 210.3L469.00 209.5L469.50 208.8L470.00 208.0L470.50 207.3L471.00 206.5L471.50 205.7L472.00 205.0L472.50 204.2L473.00 203.5L473.50 202.7L474.00 202.0L474.50 201.2L475.00 200.4L475.50 199.7L476.00 198.9L476.50 198.2L477.00 197.5L477.50 196.7L478.00 195.9L478.50 195.2L479.00 194.4L479.50 193.6L480.00 192.8L480.50 192.0L481.00 191.2L481.50 190.5L482.00 189.7L482.50 188.9L483.00 188.1L483.50 187.3L484.00 186.5L484.50 185.7L485.00 184.9L485.50 184.1L486.00 183.3L486.50 182.5L487.00 181.7L487.50 180.9L488.00 180.1L488.50 179.3L489.00 178.5L489.50 177.7L490.00 177.0L490.50 176.2L491.00 175.5L491.50 174.7L492.00 174.0L492.50 173.2L493.00 172.5L493.50 171.8L493.70 171.5L494.00 171.1L494.50 170.4L495.00 169.7L495.50 168.9L496.00 168.2L496.50 167.5L497.00 166.8L497.50 166.1L498.00 165.4L498.50 164.7L499.00 164.0L499.50 163.2L500.00 162.5L500.50 161.8L501.00 161.2L501.50 160.5L502.00 159.8L502.50 159.1L503.00 158.4L503.50 157.8L504.00 157.1L504.50 156.5L505.00 155.8L505.50 155.2L506.00 154.6L506.50 153.9L507.00 153.3L507.50 152.7L508.00 152.2L508.50 151.6L509.00 151.0L509.50 150.5L510.00 149.9L510.50 149.4L510.90 149.0L511.00 148.9L511.50 148.4L512.00 147.9L512.50 147.4L513.00 146.9L513.50 146.5L514.00 146.0L514.50 145.5L515.00 145.1L515.50 144.6L516.00 144.1L516.50 143.7L517.00 143.3L517.50 142.8L518.00 142.4L518.50 142.0L519.00 141.6L519.50 141.1L520.00 140.7L520.50 140.3L521.00 139.9L521.50 139.5L522.00 139.1L522.50 138.7L523.00 138.3L523.50 138.0L524.00 137.6L524.50 137.2L525.00 136.8L525.50 136.5L526.00 136.1L526.50 135.7L527.00 135.4L527.50 135.0L528.00 134.7L528.10 134.6L528.50 134.3L529.00 134.0L529.50 133.6L530.00 133.3L530.50 132.9L531.00 132.6L531.50 132.3L532.00 131.9L532.50 131.6L533.00 131.3L533.50 130.9L534.00 130.6L534.50 130.3L535.00 130.0L535.50 129.7L536.00 129.4L536.50 129.0L537.00 128.7L537.50 128.4L538.00 128.1L538.50 127.8L539.00 127.5L539.50 127.2L540.00 127.0L540.50 126.7L541.00 126.4L541.50 126.1L542.00 125.8L542.50 125.6L543.00 125.3L543.50 125.0L544.00 124.8L544.50 124.5L545.00 124.3L545.30 124.1L545.50 124.0L546.00 123.8L546.50 123.5L547.00 123.3L547.50 123.0L548.00 122.8L548.50 122.6L549.00 122.3L549.50 122.1L550.00 121.9L550.50 121.7L551.00 121.4L551.50 121.2L552.00 121.0L552.50 120.8L553.00 120.6L553.50 120.4L554.00 120.1L554.50 119.9L555.00 119.7L555.50 119.5L556.00 119.3L556.50 119.1L557.00 118.9L557.50 118.7L558.00 118.5L558.50 118.3L559.00 118.1L559.50 117.9L560.00 117.7L560.50 117.4L561.00 117.2L561.50 117.0L562.00 116.8L562.50 116.6L563.00 116.4L563.50 116.2L564.00 116.0L564.50 115.7L565.00 115.5L565.50 115.3L566.00 115.1L566.50 114.8L567.00 114.6L567.50 114.4L568.00 114.2L568.50 113.9L569.00 113.7L569.50 113.5L570.00 113.3L570.50 113.0L571.00 112.8L571.50 112.6L572.00 112.4L572.50 112.2L573.00 111.9L573.50 111.7L574.00 111.5L574.50 111.3L575.00 111.1L575.50 110.9L576.00 110.7L576.50 110.5L577.00 110.3L577.50 110.2L578.00 110.0L578.50 109.8L579.00 109.6L579.50 109.5L579.70 109.4L580.00 109.3L580.50 109.1L581.00 109.0L581.50 108.8L582.00 108.7L582.50 108.5L583.00 108.4L583.50 108.2L584.00 108.1L584.50 108.0L585.00 107.8L585.50 107.7L586.00 107.5L586.50 107.4L587.00 107.3L587.50 107.1L588.00 107.0L588.50 106.9L589.00 106.7L589.50 106.6L590.00 106.5L590.50 106.3L591.00 106.2L591.50 106.1L592.00 105.9L592.50 105.8L593.00 105.7L593.50 105.6L594.00 105.4L594.50 105.3L595.00 105.2L595.50 105.1L596.00 104.9L596.50 104.8L596.90 104.7L597.00 104.7L597.50 104.6L598.00 104.4L598.50 104.3L599.00 104.2L599.50 104.1L600.00 103.9L600.50 103.8L601.00 103.7L601.50 103.6L602.00 103.4L602.50 103.3L603.00 103.2L603.50 103.1L604.00 103.0L604.50 102.9L605.00 102.7L605.50 102.6L606.00 102.5L606.50 102.4L607.00 102.3L607.50 102.2L608.00 102.0L608.50 101.9L609.00 101.8L609.50 101.7L610.00 101.6L610.50 101.5L611.00 101.4L611.50 101.3L612.00 101.2L612.50 101.0L613.00 100.9L613.50 100.8L614.00 100.7L614.10 100.7L614.50 100.6L615.00 100.5L615.50 100.4L616.00 100.3L616.50 100.2L617.00 100.1L617.50 100.0L618.00 99.9L618.50 99.8L619.00 99.7L619.50 99.6L620.00 99.5L620.50 99.4L621.00 99.3L621.50 99.2L622.00 99.1L622.50 99.0L623.00 98.9L623.50 98.8L624.00 98.7L624.50 98.6L625.00 98.5L625.50 98.4L626.00 98.3L626.50 98.2L627.00 98.1L627.50 98.0L628.00 97.9L628.50 97.8L629.00 97.7L629.50 97.6L630.00 97.5L630.50 97.5L631.00 97.4L631.30 97.3L631.50 97.3L632.00 97.2L632.50 97.1L633.00 97.0L633.50 96.9L634.00 96.8L634.50 96.7L635.00 96.6L635.50 96.5L636.00 96.4L636.50 96.3L637.00 96.2L637.50 96.1L638.00 96.0L638.50 95.9L639.00 95.8L639.50 95.7L640.00 95.7L640.50 95.6L641.00 95.5L641.50 95.4L642.00 95.3L642.50 95.2L643.00 95.1L643.50 95.0L644.00 94.9L644.50 94.8L645.00 94.7L645.50 94.6L646.00 94.6L646.50 94.5L647.00 94.4L647.50 94.3L648.00 94.2L648.50 94.1L649.00 94.0L649.50 93.9L650.00 93.8L650.50 93.7L651.00 93.7L651.50 93.6L652.00 93.5L652.50 93.4L653.00 93.3L653.50 93.2L654.00 93.1L654.50 93.0L655.00 92.9L655.50 92.9L656.00 92.8L656.50 92.7L657.00 92.6L657.50 92.5L658.00 92.4L658.50 92.3L659.00 92.2L659.50 92.2L660.00 92.1L660.50 92.0L661.00 91.9L661.50 91.8L662.00 91.7L662.50 91.6L663.00 91.6L663.50 91.5L664.00 91.4L664.50 91.3L665.00 91.2L665.50 91.1L665.70 91.1" fill="none" stroke="#ff00ff" stroke-width="3.1" stroke-linejoin="round" stroke-linecap="round"/>
<path d="M132.5 108.5L138.7 98.3L126.3 98.3Z" fill="#ff00ff"/>
<path d="M149.7 115.8L155.9 105.6L143.5 105.6Z" fill="#ff00ff"/>
<path d="M166.9 124.0L173.1 113.8L160.7 113.8Z" fill="#ff00ff"/>
<path d="M184.1 132.0L190.3 121.8L177.9 121.8Z" fill="#ff00ff"/>
<path d="M201.3 138.2L207.5 128.0L195.1 128.0Z" fill="#ff00ff"/>
<path d="M218.5 145.5L224.7 135.3L212.3 135.3Z" fill="#ff00ff"/>
<path d="M235.7 152.9L241.9 142.7L229.5 142.7Z" fill="#ff00ff"/>
<path d="M252.9 162.2L259.1 152.0L246.7 152.0Z" fill="#ff00ff"/>
<path d="M270.1 171.5L276.3 161.3L263.9 161.3Z" fill="#ff00ff"/>
<path d="M287.3 182.0L293.5 171.8L281.1 171.8Z" fill="#ff00ff"/>
<path d="M304.5 193.4L310.7 183.2L298.3 183.2Z" fill="#ff00ff"/>
<path d="M321.7 205.9L327.9 195.7L315.5 195.7Z" fill="#ff00ff"/>
<path d="M338.9 219.4L345.1 209.2L332.7 209.2Z" fill="#ff00ff"/>
<path d="M356.1 233.6L362.3 223.4L349.9 223.4Z" fill="#ff00ff"/>
<path d="M373.3 252.6L379.5 242.4L367.1 242.4Z" fill="#ff00ff"/>
<path d="M390.5 277.9L396.7 267.7L384.3 267.7Z" fill="#ff00ff"/>
<path d="M408.8 346.2L415.0 336.0L402.6 336.0Z" fill="#ff00ff"/>
<path d="M424.9 287.4L431.1 277.2L418.7 277.2Z" fill="#ff00ff"/>
<path d="M442.1 254.6L448.3 244.4L435.9 244.4Z" fill="#ff00ff"/>
<path d="M459.3 229.9L465.5 219.7L453.1 219.7Z" fill="#ff00ff"/>
<path d="M476.5 204.4L482.7 194.2L470.3 194.2Z" fill="#ff00ff"/>
<path d="M493.7 177.7L499.9 167.5L487.5 167.5Z" fill="#ff00ff"/>
<path d="M510.9 155.2L517.1 145.0L504.7 145.0Z" fill="#ff00ff"/>
<path d="M528.1 140.8L534.3 130.6L521.9 130.6Z" fill="#ff00ff"/>
<path d="M545.3 130.3L551.5 120.1L539.1 120.1Z" fill="#ff00ff"/>
<path d="M562.5 122.8L568.7 112.6L556.3 112.6Z" fill="#ff00ff"/>
<path d="M579.7 115.6L585.9 105.4L573.5 105.4Z" fill="#ff00ff"/>
<path d="M596.9 110.9L603.1 100.7L590.7 100.7Z" fill="#ff00ff"/>
<path d="M614.1 106.9L620.3 96.7L607.9 96.7Z" fill="#ff00ff"/>
<path d="M631.3 103.5L637.5 93.3L625.1 93.3Z" fill="#ff00ff"/>
<path d="M648.5 100.3L654.7 90.1L642.3 90.1Z" fill="#ff00ff"/>
<path d="M665.7 97.3L671.9 87.1L659.5 87.1Z" fill="#ff00ff"/>
</g>
<g id="s-green">
<path d="M121.50 112.6L122.00 112.9L122.50 113.2L123.00 113.5L123.50 113.9L124.00 114.2L124.50 114.5L125.00 114.8L125.50 115.1L126.00 115.4L126.50 115.7L127.00 116.0L127.50 116.3L128.00 116.6L128.50 116.9L129.00 117.2L129.50 117.5L130.00 117.8L130.50 118.1L131.00 118.4L131.50 118.8L132.00 119.0L132.50 119.3L133.00 119.6L133.50 119.9L134.00 120.2L134.50 120.5L135.00 120.8L135.50 121.1L136.00 121.4L136.50 121.7L137.00 122.0L137.50 122.3L138.00 122.6L138.50 122.9L138.74 123.0L139.00 123.2L139.50 123.4L140.00 123.7L140.50 124.0L141.00 124.3L141.50 124.6L142.00 124.9L142.50 125.1L143.00 125.4L143.50 125.7L144.00 126.0L144.50 126.3L145.00 126.6L145.50 126.8L146.00 127.1L146.50 127.4L147.00 127.7L147.50 127.9L148.00 128.2L148.50 128.5L149.00 128.8L149.50 129.0L150.00 129.3L150.50 129.6L151.00 129.8L151.50 130.1L152.00 130.4L152.50 130.7L153.00 130.9L153.50 131.2L154.00 131.5L154.50 131.7L155.00 132.0L155.50 132.3L155.97 132.5L156.00 132.5L156.50 132.8L157.00 133.0L157.50 133.3L158.00 133.6L158.50 133.8L159.00 134.1L159.50 134.3L160.00 134.6L160.50 134.9L161.00 135.1L161.50 135.4L162.00 135.6L162.50 135.9L163.00 136.1L163.50 136.4L164.00 136.7L164.50 136.9L165.00 137.2L165.50 137.4L166.00 137.7L166.50 137.9L167.00 138.2L167.50 138.4L168.00 138.7L168.50 138.9L169.00 139.2L169.50 139.4L170.00 139.6L170.50 139.9L171.00 140.1L171.50 140.4L172.00 140.6L172.50 140.9L173.00 141.1L173.20 141.2L173.50 141.3L174.00 141.6L174.50 141.8L175.00 142.0L175.50 142.3L176.00 142.5L176.50 142.7L177.00 143.0L177.50 143.2L178.00 143.4L178.50 143.6L179.00 143.9L179.50 144.1L180.00 144.3L180.50 144.5L181.00 144.8L181.50 145.0L182.00 145.2L182.50 145.4L183.00 145.6L183.50 145.9L184.00 146.1L184.50 146.3L185.00 146.5L185.50 146.8L186.00 147.0L186.50 147.2L187.00 147.5L187.50 147.7L188.00 147.9L188.50 148.2L189.00 148.4L189.50 148.6L190.00 148.9L190.44 149.1L190.50 149.1L191.00 149.4L191.50 149.6L192.00 149.9L192.50 150.1L193.00 150.4L193.50 150.6L194.00 150.9L194.50 151.2L195.00 151.4L195.50 151.7L196.00 151.9L196.50 152.2L197.00 152.5L197.50 152.7L198.00 153.0L198.50 153.3L199.00 153.5L199.50 153.8L200.00 154.1L200.50 154.4L201.00 154.6L201.50 154.9L202.00 155.2L202.50 155.4L203.00 155.7L203.50 156.0L204.00 156.2L204.50 156.5L205.00 156.8L205.50 157.0L206.00 157.3L206.50 157.6L207.00 157.8L207.50 158.1L207.68 158.2L208.00 158.4L208.50 158.6L209.00 158.9L209.50 159.2L210.00 159.4L210.50 159.7L211.00 159.9L211.50 160.2L212.00 160.5L212.50 160.7L213.00 161.0L213.50 161.2L214.00 161.5L214.50 161.8L215.00 162.0L215.50 162.3L216.00 162.5L216.50 162.8L217.00 163.1L217.50 163.3L218.00 163.6L218.50 163.8L219.00 164.1L219.50 164.4L220.00 164.6L220.50 164.9L221.00 165.1L221.50 165.4L222.00 165.7L222.50 165.9L223.00 166.2L223.50 166.5L224.00 166.7L224.50 167.0L224.91 167.2L225.00 167.2L225.50 167.5L226.00 167.8L226.50 168.0L227.00 168.3L227.50 168.6L228.00 168.8L228.50 169.1L229.00 169.4L229.50 169.6L230.00 169.9L230.50 170.2L231.00 170.4L231.50 170.7L232.00 171.0L232.50 171.2L233.00 171.5L233.50 171.8L234.00 172.0L234.50 172.3L235.00 172.6L235.50 172.8L236.00 173.1L236.50 173.4L237.00 173.6L237.50 173.9L238.00 174.2L238.50 174.4L239.00 174.7L239.50 175.0L240.00 175.2L240.50 175.5L241.00 175.8L241.50 176.1L242.00 176.3L242.14 176.4L242.50 176.6L243.00 176.9L243.50 177.1L244.00 177.4L244.50 177.7L245.00 178.0L245.50 178.2L246.00 178.5L246.50 178.8L247.00 179.0L247.50 179.3L248.00 179.6L248.50 179.9L249.00 180.1L249.50 180.4L250.00 180.7L250.50 181.0L251.00 181.3L251.50 181.5L252.00 181.8L252.50 182.1L253.00 182.4L253.50 182.6L254.00 182.9L254.50 183.2L255.00 183.5L255.50 183.7L256.00 184.0L256.50 184.3L257.00 184.6L257.50 184.9L258.00 185.1L258.50 185.4L259.00 185.7L259.38 185.9L259.50 186.0L260.00 186.2L260.50 186.5L261.00 186.8L261.50 187.1L262.00 187.4L262.50 187.6L263.00 187.9L263.50 188.2L264.00 188.5L264.50 188.8L265.00 189.1L265.50 189.3L266.00 189.6L266.50 189.9L267.00 190.2L267.50 190.5L268.00 190.8L268.50 191.0L269.00 191.3L269.50 191.6L270.00 191.9L270.50 192.2L271.00 192.4L271.50 192.7L272.00 193.0L272.50 193.3L273.00 193.6L273.50 193.9L274.00 194.1L274.50 194.4L275.00 194.7L275.50 195.0L276.00 195.3L276.50 195.5L276.62 195.6L277.00 195.8L277.50 196.1L278.00 196.4L278.50 196.6L279.00 196.9L279.50 197.2L280.00 197.5L280.50 197.7L281.00 198.0L281.50 198.3L282.00 198.6L282.50 198.8L283.00 199.1L283.50 199.4L284.00 199.7L284.50 199.9L285.00 200.2L285.50 200.5L286.00 200.8L286.50 201.0L287.00 201.3L287.50 201.6L288.00 201.9L288.50 202.2L289.00 202.4L289.50 202.7L290.00 203.0L290.50 203.3L291.00 203.6L291.50 203.9L292.00 204.1L292.50 204.4L293.00 204.7L293.50 205.0L293.85 205.2L294.00 205.3L294.50 205.6L295.00 205.9L295.50 206.2L296.00 206.5L296.50 206.8L297.00 207.0L297.50 207.3L298.00 207.6L298.50 207.9L299.00 208.2L299.50 208.5L300.00 208.8L300.50 209.1L301.00 209.5L301.50 209.8L302.00 210.1L302.50 210.4L303.00 210.7L303.50 211.0L304.00 211.3L304.50 211.6L305.00 211.9L305.50 212.2L306.00 212.5L306.50 212.8L307.00 213.1L307.50 213.5L308.00 213.8L308.50 214.1L309.00 214.4L309.50 214.7L310.00 215.0L310.50 215.3L311.00 215.6L311.08 215.7L311.50 216.0L312.00 216.3L312.50 216.6L313.00 216.9L313.50 217.2L314.00 217.5L314.50 217.9L315.00 218.2L315.50 218.5L316.00 218.8L316.50 219.2L317.00 219.5L317.50 219.8L318.00 220.1L318.50 220.5L319.00 220.8L319.50 221.1L320.00 221.5L320.50 221.8L321.00 222.1L321.50 222.5L322.00 222.8L322.50 223.1L323.00 223.5L323.50 223.8L324.00 224.1L324.50 224.5L325.00 224.8L325.50 225.2L326.00 225.5L326.50 225.8L327.00 226.2L327.50 226.5L328.00 226.9L328.32 227.1L328.50 227.2L329.00 227.6L329.50 227.9L330.00 228.3L330.50 228.6L331.00 229.0L331.50 229.4L332.00 229.7L332.50 230.1L333.00 230.5L333.50 230.8L334.00 231.2L334.50 231.6L335.00 232.0L335.50 232.3L336.00 232.7L336.50 233.1L337.00 233.5L337.50 233.9L338.00 234.3L338.50 234.6L339.00 235.0L339.50 235.4L340.00 235.8L340.50 236.2L341.00 236.6L341.50 237.0L342.00 237.3L342.50 237.7L343.00 238.1L343.50 238.5L344.00 238.9L344.50 239.3L345.00 239.7L345.50 240.1L345.56 240.1L346.00 240.4L346.50 240.8L347.00 241.2L347.50 241.6L348.00 242.0L348.50 242.4L349.00 242.8L349.50 243.2L350.00 243.6L350.50 244.0L351.00 244.4L351.50 244.8L352.00 245.2L352.50 245.6L353.00 246.0L353.50 246.4L354.00 246.8L354.50 247.3L355.00 247.7L355.50 248.1L356.00 248.6L356.50 249.0L357.00 249.5L357.50 249.9L358.00 250.4L358.50 250.9L359.00 251.3L359.50 251.8L360.00 252.3L360.50 252.8L361.00 253.3L361.50 253.8L362.00 254.4L362.50 254.9L362.79 255.2L363.00 255.4L363.50 256.0L364.00 256.6L364.50 257.1L365.00 257.7L365.50 258.3L366.00 259.0L366.50 259.6L367.00 260.2L367.50 260.9L368.00 261.6L368.50 262.3L369.00 263.0L369.50 263.7L370.00 264.4L370.50 265.1L371.00 265.8L371.50 266.6L372.00 267.3L372.50 268.1L373.00 268.9L373.50 269.7L374.00 270.5L374.50 271.3L375.00 272.1L375.50 272.9L376.00 273.8L376.50 274.6L377.00 275.5L377.50 276.4L378.00 277.3L378.50 278.2L379.00 279.1L379.50 280.0L380.00 281.0L380.02 281.0L380.50 281.9L381.00 282.9L381.50 283.9L382.00 285.0L382.50 286.0L383.00 287.2L383.30 287.8L383.50 288.3L384.00 289.5L384.46 290.6L384.50 290.7L385.00 292.0L385.50 293.3L385.54 293.4L386.00 294.7L386.50 296.1L386.53 296.2L387.00 297.6L387.44 299.0L387.50 299.2L388.00 300.8L388.29 301.8L388.50 302.5L389.00 304.4L389.06 304.6L389.50 306.3L389.78 307.4L390.00 308.3L390.44 310.2L390.50 310.4L391.00 312.7L391.05 312.9L391.50 315.2L391.61 315.7L392.00 317.8L392.13 318.5L392.50 320.6L392.61 321.3L393.00 323.7L393.05 324.1L393.46 326.9L393.50 327.2L393.84 329.7L394.00 330.9L394.18 332.4L394.50 335.2L394.50 335.2L394.80 338.0L395.00 340.1L395.07 340.8L395.32 343.6L395.50 345.7L395.55 346.3L395.76 349.1L395.96 351.9L396.00 352.5L396.14 354.7L396.31 357.5L396.46 360.3L396.50 360.9L396.61 363.0L396.74 365.8L396.86 368.6L396.97 371.4L397.00 372.1L397.07 374.2L397.17 376.9L397.26 379.7L397.34 382.5L397.41 385.3L397.48 388.1L397.50 388.8L397.55 390.8L397.60 393.6L397.66 396.4L397.69 398.2L397.71 399.2L397.75 402.0L397.80 404.7L397.84 407.5L397.87 410.3L398.30 410.9L398.73 410.3L398.76 407.5L398.80 404.7L398.85 402.0L398.89 399.2L398.94 396.4L399.00 393.6L399.00 393.4L399.05 390.9L399.12 388.1L399.19 385.3L399.26 382.5L399.34 379.7L399.43 377.0L399.50 374.9L399.53 374.2L399.63 371.4L399.74 368.6L399.86 365.8L399.99 363.1L400.00 362.9L400.14 360.3L400.29 357.5L400.46 354.7L400.50 354.0L400.64 351.9L400.84 349.2L401.00 347.0L401.05 346.4L401.28 343.6L401.50 341.2L401.53 340.8L401.80 338.0L402.00 336.2L402.10 335.3L402.42 332.5L402.50 331.8L402.76 329.7L403.00 327.9L403.14 326.9L403.50 324.5L403.55 324.2L403.99 321.4L404.00 321.3L404.47 318.6L404.50 318.4L404.99 315.8L405.00 315.7L405.50 313.3L405.55 313.0L406.00 311.0L406.16 310.3L406.50 308.8L406.82 307.5L407.00 306.8L407.50 304.8L407.54 304.7L408.00 303.0L408.31 301.9L408.50 301.3L409.00 299.7L409.16 299.2L409.50 298.1L410.00 296.6L410.07 296.4L410.50 295.1L411.00 293.8L411.06 293.6L411.50 292.4L412.00 291.2L412.14 290.8L412.50 289.9L413.00 288.7L413.30 288.0L413.50 287.6L414.00 286.5L414.50 285.4L414.50 285.4L415.00 284.3L415.50 283.3L416.00 282.3L416.50 281.3L417.00 280.3L417.50 279.4L418.00 278.5L418.50 277.5L419.00 276.6L419.50 275.8L420.00 274.9L420.50 274.0L421.00 273.2L421.50 272.3L422.00 271.5L422.50 270.7L423.00 269.9L423.50 269.1L424.00 268.3L424.50 267.6L425.00 266.8L425.50 266.1L426.00 265.4L426.50 264.6L427.00 263.9L427.50 263.2L428.00 262.6L428.50 261.9L429.00 261.2L429.50 260.6L430.00 259.9L430.50 259.3L431.00 258.7L431.50 258.1L431.73 257.8L432.00 257.5L432.50 256.9L433.00 256.3L433.50 255.8L434.00 255.2L434.50 254.6L435.00 254.1L435.50 253.6L436.00 253.0L436.50 252.5L437.00 252.0L437.50 251.5L438.00 251.0L438.50 250.5L439.00 250.0L439.50 249.5L440.00 249.0L440.50 248.5L441.00 248.0L441.50 247.5L442.00 247.1L442.50 246.6L443.00 246.1L443.50 245.7L444.00 245.2L444.50 244.7L445.00 244.3L445.50 243.8L446.00 243.4L446.50 242.9L447.00 242.5L447.50 242.0L448.00 241.6L448.50 241.1L448.96 240.7L449.00 240.7L449.50 240.2L450.00 239.8L450.50 239.3L451.00 238.8L451.50 238.4L452.00 237.9L452.50 237.5L453.00 237.0L453.50 236.5L454.00 236.1L454.50 235.6L455.00 235.1L455.50 234.6L456.00 234.2L456.50 233.7L457.00 233.2L457.50 232.7L458.00 232.3L458.50 231.8L459.00 231.3L459.50 230.8L460.00 230.4L460.50 229.9L461.00 229.4L461.50 228.9L462.00 228.5L462.50 228.0L463.00 227.5L463.50 227.0L464.00 226.6L464.50 226.1L465.00 225.6L465.50 225.2L466.00 224.7L466.20 224.5L466.50 224.2L467.00 223.8L467.50 223.3L468.00 222.8L468.50 222.3L469.00 221.9L469.50 221.4L470.00 220.9L470.50 220.4L471.00 220.0L471.50 219.5L472.00 219.0L472.50 218.5L473.00 218.0L473.50 217.5L474.00 217.0L474.50 216.6L475.00 216.1L475.50 215.6L476.00 215.1L476.50 214.6L477.00 214.1L477.50 213.6L478.00 213.1L478.50 212.6L479.00 212.1L479.50 211.6L480.00 211.1L480.50 210.6L481.00 210.1L481.50 209.6L482.00 209.1L482.50 208.6L483.00 208.0L483.44 207.6L483.50 207.5L484.00 207.0L484.50 206.5L485.00 206.0L485.50 205.4L486.00 204.9L486.50 204.3L487.00 203.8L487.50 203.2L488.00 202.7L488.50 202.1L489.00 201.6L489.50 201.0L490.00 200.4L490.50 199.9L491.00 199.3L491.50 198.7L492.00 198.1L492.50 197.6L493.00 197.0L493.50 196.4L494.00 195.8L494.50 195.3L495.00 194.7L495.50 194.1L496.00 193.5L496.50 193.0L497.00 192.4L497.50 191.9L498.00 191.3L498.50 190.7L499.00 190.2L499.50 189.7L500.00 189.1L500.50 188.6L500.67 188.4L501.00 188.1L501.50 187.5L502.00 187.0L502.50 186.5L503.00 186.0L503.50 185.4L504.00 184.9L504.50 184.4L505.00 183.9L505.50 183.4L506.00 182.9L506.50 182.4L507.00 181.9L507.50 181.4L508.00 180.9L508.50 180.4L509.00 179.9L509.50 179.4L510.00 178.9L510.50 178.4L511.00 177.9L511.50 177.4L512.00 176.9L512.50 176.4L513.00 175.9L513.50 175.4L514.00 174.9L514.50 174.4L515.00 173.9L515.50 173.4L516.00 172.9L516.50 172.4L517.00 171.9L517.50 171.4L517.90 171.0L518.00 170.9L518.50 170.4L519.00 169.9L519.50 169.4L520.00 168.9L520.50 168.4L521.00 167.9L521.50 167.4L522.00 166.9L522.50 166.4L523.00 165.9L523.50 165.4L524.00 164.9L524.50 164.4L525.00 163.9L525.50 163.4L526.00 162.9L526.50 162.4L527.00 161.9L527.50 161.4L528.00 160.9L528.50 160.4L529.00 159.9L529.50 159.5L530.00 159.0L530.50 158.5L531.00 158.0L531.50 157.5L532.00 157.0L532.50 156.5L533.00 156.0L533.50 155.6L534.00 155.1L534.50 154.6L535.00 154.1L535.14 154.0L535.50 153.7L536.00 153.2L536.50 152.7L537.00 152.2L537.50 151.7L538.00 151.3L538.50 150.8L539.00 150.3L539.50 149.8L540.00 149.3L540.50 148.9L541.00 148.4L541.50 147.9L542.00 147.4L542.50 147.0L543.00 146.5L543.50 146.0L544.00 145.6L544.50 145.1L545.00 144.6L545.50 144.2L546.00 143.7L546.50 143.3L547.00 142.8L547.50 142.4L548.00 141.9L548.50 141.5L549.00 141.1L549.50 140.6L550.00 140.2L550.50 139.8L551.00 139.4L551.50 139.0L552.00 138.6L552.38 138.3L552.50 138.2L553.00 137.8L553.50 137.4L554.00 137.1L554.50 136.7L555.00 136.3L555.50 135.9L556.00 135.5L556.50 135.2L557.00 134.8L557.50 134.4L558.00 134.1L558.50 133.7L559.00 133.4L559.50 133.0L560.00 132.7L560.50 132.3L561.00 132.0L561.50 131.6L562.00 131.3L562.50 131.0L563.00 130.6L563.50 130.3L564.00 130.0L564.50 129.7L565.00 129.3L565.50 129.0L566.00 128.7L566.50 128.4L567.00 128.1L567.50 127.8L568.00 127.5L568.50 127.2L569.00 126.9L569.50 126.7L569.61 126.6L570.00 126.4L570.50 126.1L571.00 125.8L571.50 125.6L572.00 125.3L572.50 125.0L573.00 124.8L573.50 124.5L574.00 124.3L574.50 124.0L575.00 123.8L575.50 123.5L576.00 123.3L576.50 123.1L577.00 122.8L577.50 122.6L578.00 122.3L578.50 122.1L579.00 121.9L579.50 121.6L580.00 121.4L580.50 121.2L581.00 121.0L581.50 120.7L582.00 120.5L582.50 120.3L583.00 120.1L583.50 119.9L584.00 119.6L584.50 119.4L585.00 119.2L585.50 119.0L586.00 118.8L586.50 118.5L586.85 118.4L587.00 118.3L587.50 118.1L588.00 117.9L588.50 117.7L589.00 117.5L589.50 117.3L590.00 117.1L590.50 116.9L591.00 116.7L591.50 116.4L592.00 116.2L592.50 116.0L593.00 115.8L593.50 115.6L594.00 115.4L594.50 115.2L595.00 115.0L595.50 114.8L596.00 114.6L596.50 114.4L597.00 114.3L597.50 114.1L598.00 113.9L598.50 113.7L599.00 113.5L599.50 113.3L600.00 113.1L600.50 112.9L601.00 112.7L601.50 112.5L602.00 112.4L602.50 112.2L603.00 112.0L603.50 111.8L604.00 111.6L604.08 111.6L604.50 111.4L605.00 111.3L605.50 111.1L606.00 110.9L606.50 110.7L607.00 110.5L607.50 110.4L608.00 110.2L608.50 110.0L609.00 109.8L609.50 109.6L610.00 109.5L610.50 109.3L611.00 109.1L611.50 108.9L612.00 108.8L612.50 108.6L613.00 108.4L613.50 108.3L614.00 108.1L614.50 107.9L615.00 107.7L615.50 107.6L616.00 107.4L616.50 107.3L617.00 107.1L617.50 106.9L618.00 106.8L618.50 106.6L619.00 106.5L619.50 106.3L620.00 106.2L620.50 106.0L621.00 105.9L621.32 105.8L621.50 105.7L622.00 105.6L622.50 105.5L623.00 105.3L623.50 105.2L624.00 105.1L624.50 104.9L625.00 104.8L625.50 104.7L626.00 104.5L626.50 104.4L627.00 104.3L627.50 104.1L628.00 104.0L628.50 103.9L629.00 103.8L629.50 103.6L630.00 103.5L630.50 103.4L631.00 103.3L631.50 103.2L632.00 103.0L632.50 102.9L633.00 102.8L633.50 102.7L634.00 102.6L634.50 102.4L635.00 102.3L635.50 102.2L636.00 102.1L636.50 102.0L637.00 101.9L637.50 101.7L638.00 101.6L638.50 101.5L638.55 101.5L639.00 101.4L639.50 101.3L640.00 101.2L640.50 101.1L641.00 100.9L641.50 100.8L642.00 100.7L642.50 100.6L643.00 100.5L643.50 100.4L644.00 100.3L644.50 100.2L645.00 100.1L645.50 99.9L646.00 99.8L646.50 99.7L647.00 99.6L647.50 99.5L648.00 99.4L648.50 99.3L649.00 99.2L649.50 99.1L650.00 99.0L650.50 98.9L651.00 98.8L651.50 98.7L652.00 98.6L652.50 98.5L653.00 98.4L653.50 98.3L654.00 98.2L654.50 98.1L655.00 98.0L655.50 97.9L655.78 97.8" fill="none" stroke="#008000" stroke-width="3.1" stroke-linejoin="round" stroke-linecap="round"/>
<path d="M121.5 106.3L127.8 112.6L121.5 118.9L115.2 112.6Z" fill="#008000"/>
<path d="M138.7 116.7L145.0 123.0L138.7 129.3L132.4 123.0Z" fill="#008000"/>
<path d="M156.0 126.2L162.3 132.5L156.0 138.8L149.7 132.5Z" fill="#008000"/>
<path d="M173.2 134.9L179.5 141.2L173.2 147.5L166.9 141.2Z" fill="#008000"/>
<path d="M190.4 142.8L196.7 149.1L190.4 155.4L184.1 149.1Z" fill="#008000"/>
<path d="M207.7 151.9L214.0 158.2L207.7 164.5L201.4 158.2Z" fill="#008000"/>
<path d="M224.9 160.9L231.2 167.2L224.9 173.5L218.6 167.2Z" fill="#008000"/>
<path d="M242.1 170.1L248.4 176.4L242.1 182.7L235.8 176.4Z" fill="#008000"/>
<path d="M259.4 179.6L265.7 185.9L259.4 192.2L253.1 185.9Z" fill="#008000"/>
<path d="M276.6 189.3L282.9 195.6L276.6 201.9L270.3 195.6Z" fill="#008000"/>
<path d="M293.9 198.9L300.2 205.2L293.9 211.5L287.6 205.2Z" fill="#008000"/>
<path d="M311.1 209.4L317.4 215.7L311.1 222.0L304.8 215.7Z" fill="#008000"/>
<path d="M328.3 220.8L334.6 227.1L328.3 233.4L322.0 227.1Z" fill="#008000"/>
<path d="M345.6 233.8L351.9 240.1L345.6 246.4L339.3 240.1Z" fill="#008000"/>
<path d="M362.8 248.9L369.1 255.2L362.8 261.5L356.5 255.2Z" fill="#008000"/>
<path d="M380.0 274.7L386.3 281.0L380.0 287.3L373.7 281.0Z" fill="#008000"/>
<path d="M397.7 391.9L404.0 398.2L397.7 404.5L391.4 398.2Z" fill="#008000"/>
<path d="M414.5 279.1L420.8 285.4L414.5 291.7L408.2 285.4Z" fill="#008000"/>
<path d="M431.7 251.5L438.0 257.8L431.7 264.1L425.4 257.8Z" fill="#008000"/>
<path d="M449.0 234.4L455.3 240.7L449.0 247.0L442.7 240.7Z" fill="#008000"/>
<path d="M466.2 218.2L472.5 224.5L466.2 230.8L459.9 224.5Z" fill="#008000"/>
<path d="M483.4 201.3L489.7 207.6L483.4 213.9L477.1 207.6Z" fill="#008000"/>
<path d="M500.7 182.1L507.0 188.4L500.7 194.7L494.4 188.4Z" fill="#008000"/>
<path d="M517.9 164.7L524.2 171.0L517.9 177.3L511.6 171.0Z" fill="#008000"/>
<path d="M535.1 147.7L541.4 154.0L535.1 160.3L528.8 154.0Z" fill="#008000"/>
<path d="M552.4 132.0L558.7 138.3L552.4 144.6L546.1 138.3Z" fill="#008000"/>
<path d="M569.6 120.3L575.9 126.6L569.6 132.9L563.3 126.6Z" fill="#008000"/>
<path d="M586.8 112.1L593.1 118.4L586.8 124.7L580.5 118.4Z" fill="#008000"/>
<path d="M604.1 105.3L610.4 111.6L604.1 117.9L597.8 111.6Z" fill="#008000"/>
<path d="M621.3 99.5L627.6 105.8L621.3 112.1L615.0 105.8Z" fill="#008000"/>
<path d="M638.5 95.2L644.8 101.5L638.5 107.8L632.2 101.5Z" fill="#008000"/>
<path d="M655.8 91.5L662.1 97.8L655.8 104.1L649.5 97.8Z" fill="#008000"/>
</g>
<g stroke="#000" fill="none">
<line x1="77.8" y1="29.900000000000002" x2="77.8" y2="506.65" stroke-width="1.5"/>
<line x1="77.05" y1="505.9" x2="722.7" y2="505.9" stroke-width="1.5"/>
<line x1="77.05" y1="30.6" x2="722.7" y2="30.6" stroke-width="1.5"/>
<line x1="722.2" y1="30.0" x2="722.2" y2="506.65" stroke-width="1.4"/>
<path d="M77.8 30.60h-8.6M77.8 70.21h-4.4M77.8 109.82h-8.6M77.8 149.42h-4.4M77.8 189.03h-8.6M77.8 228.64h-4.4M77.8 268.25h-8.6M77.8 307.86h-4.4M77.8 347.47h-8.6M77.8 387.07h-4.4M77.8 426.68h-8.6M77.8 466.29h-4.4M77.8 505.90h-8.6M77.80 505.9v4M131.50 505.9v7.8M185.20 505.9v4M238.90 505.9v7.8M292.60 505.9v4M346.30 505.9v7.8M400.00 505.9v4M453.70 505.9v7.8M507.40 505.9v4M561.10 505.9v7.8M614.80 505.9v4M668.50 505.9v7.8M722.20 505.9v4" stroke-width="1.5"/>
</g>
<g font-family="'Liberation Sans', Arial, sans-serif" font-size="19.3" fill="#000">
<text x="63.6" y="36.4" text-anchor="end">-1</text>
<text x="63.6" y="115.6" text-anchor="end">-2</text>
<text x="63.6" y="194.8" text-anchor="end">-3</text>
<text x="63.6" y="274.1" text-anchor="end">-4</text>
<text x="63.6" y="353.3" text-anchor="end">-5</text>
<text x="63.6" y="432.5" text-anchor="end">-6</text>
<text x="63.6" y="511.7" text-anchor="end">-7</text>
<text x="131.2" y="534.8" text-anchor="middle">-0.7</text>
<text x="238.6" y="534.8" text-anchor="middle">-0.6</text>
<text x="346.0" y="534.8" text-anchor="middle">-0.5</text>
<text x="453.4" y="534.8" text-anchor="middle">-0.4</text>
<text x="560.8" y="534.8" text-anchor="middle">-0.3</text>
<text x="668.2" y="534.8" text-anchor="middle">-0.2</text>
</g>
<g font-family="'Liberation Sans', Arial, sans-serif" font-size="21.6" font-weight="bold" fill="#000">
<text x="315.0" y="570.7"><tspan font-style="italic">E (</tspan>V vs Ag/AgCl)</text>
<text transform="translate(34.5 330.9) rotate(-90)">log <tspan font-style="italic">i</tspan> (A/cm<tspan font-size="14.5" dy="-8.6">2</tspan><tspan dy="8.6">)</tspan></text>
</g>
<g font-family="'Liberation Sans', Arial, sans-serif" font-size="21.6" fill="#000">
<line x1="148.6" y1="293.5" x2="196.0" y2="293.5" stroke="#000000" stroke-width="3" stroke-linecap="round"/>
<rect x="168.1" y="288.9" width="9.2" height="9.2" fill="#000000"/>
<text x="202.8" y="301.0">Blank</text>
<line x1="148.6" y1="320.2" x2="196.0" y2="320.2" stroke="#ff0000" stroke-width="3" stroke-linecap="round"/>
<circle cx="172.7" cy="320.2" r="5.1" fill="#ff0000"/>
<text x="202.8" y="327.7">Vidarabine</text>
<line x1="148.6" y1="346.8" x2="196.0" y2="346.8" stroke="#0000ff" stroke-width="3" stroke-linecap="round"/>
<path d="M172.7 340.6L178.9 350.8L166.5 350.8Z" fill="#0000ff"/>
<text x="202.8" y="354.3">Cytarabine</text>
<line x1="148.6" y1="373.5" x2="196.0" y2="373.5" stroke="#ff00ff" stroke-width="3" stroke-linecap="round"/>
<path d="M172.7 379.7L178.9 369.5L166.5 369.5Z" fill="#ff00ff"/>
<text x="202.8" y="381.0">Chlorothiazide</text>
<line x1="148.6" y1="400.2" x2="196.0" y2="400.2" stroke="#008000" stroke-width="3" stroke-linecap="round"/>
<path d="M172.7 393.9L179.0 400.2L172.7 406.5L166.4 400.2Z" fill="#008000"/>
<text x="202.8" y="407.7">Idoxuridine</text>
</g>
</svg>
</body>
</html>
